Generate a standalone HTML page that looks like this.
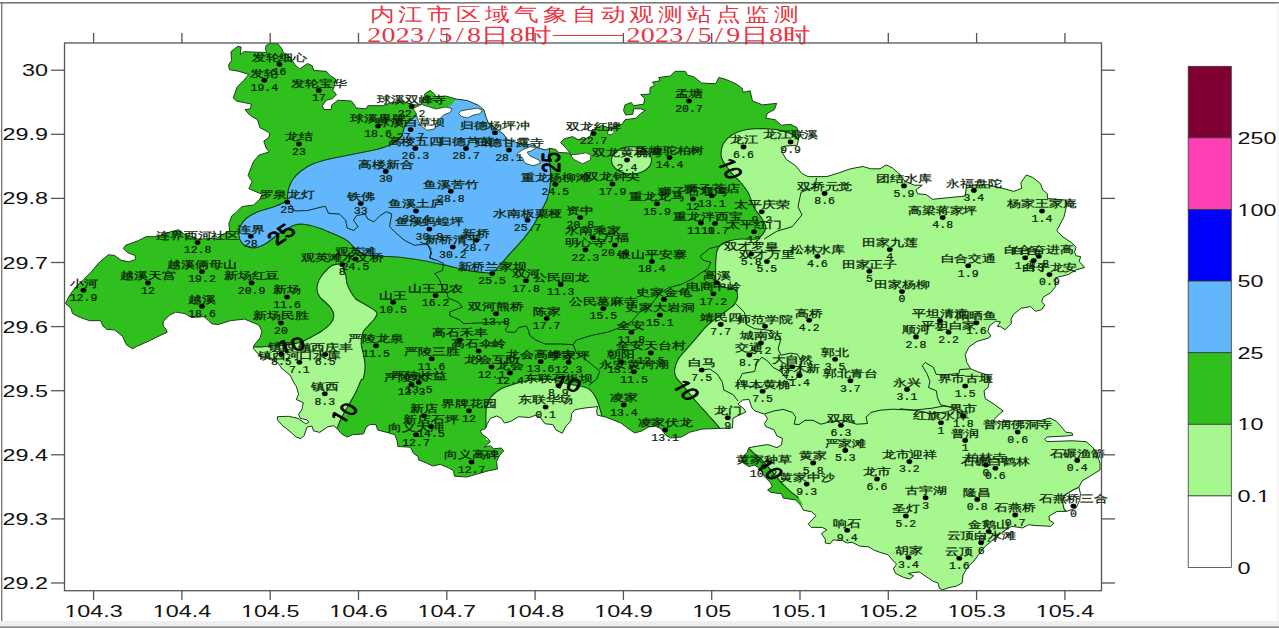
<!DOCTYPE html>
<html lang="zh"><head><meta charset="utf-8"><title>内江市区域气象自动观测站点监测</title>
<style>html,body{margin:0;padding:0;background:#fff}body{width:1279px;height:628px;overflow:hidden;font-family:"Liberation Sans",sans-serif}svg{display:block}.ax{font-family:"Liberation Sans",sans-serif;font-size:16.7px;fill:#111}.st{font-family:"Liberation Serif",serif;font-size:10.2px;fill:#0a1f08;stroke:#0a1f08;stroke-width:0.25px}.sv{font-family:"Liberation Mono",monospace;font-size:10.5px}.ti{font-family:"Liberation Serif",serif;font-weight:200;fill:#e61e32;fill-opacity:.92}.cl{font-family:"Liberation Sans",sans-serif;fill:#000;stroke:#000;stroke-width:0.8px;stroke-linejoin:round}</style></head><body>
<svg width="1279" height="628" viewBox="0 0 1279 628">
<rect width="1279" height="628" fill="#fff"/>
<rect x="0" y="2" width="1279" height="1.6" fill="#7a7a7a"/><rect x="1" y="2" width="1.4" height="620" fill="#7a7a7a"/><rect x="1277" y="3.6" width="2" height="618" fill="#f5f5f5"/>
<rect x="0" y="621" width="1279" height="5.4" fill="#efefef"/><rect x="0" y="626.3" width="1279" height="1.7" fill="#8c8c8c"/>
<defs><clipPath id="oc"><polygon points="266.1,45.5 270,43.5 277.9,43.9 281.8,48.6 283.3,52.5 290.4,57.2 295,65 299.7,68.9 307.6,63.5 312.3,65.8 313.8,70.5 326.3,71.3 329.5,75.2 335.7,79.1 334.2,86.9 332.6,90 336.5,94.7 332.6,98.6 326.3,100.2 322.4,105.7 324,109.6 331,109.6 331.8,104.9 338,100.2 351.4,101 354.5,104.9 356,108 366.2,108.8 367.8,105.7 382.6,105.7 392,102.5 404.5,101.8 410.8,104 416,105 421.5,103.8 425,93.6 430,90.5 434,93.6 436,96.7 445.7,96 456,99 467.6,100.6 478.6,105.4 484,110 485.7,116.3 488.8,124 498.2,130.3 502.9,133.5 507.6,139.7 520,143.6 532.6,145.2 537.3,147.5 545,150 549.8,148.3 556,149.5 558.2,152.4 568.4,153 571.5,155.5 568.4,150.8 564,146 560.7,142.8 563.9,138.9 572.5,136.6 578,139.7 585.8,138.9 590.4,135.8 592,130.3 601.4,125.6 610,128 615,126 621.9,124.4 625,119.7 636,118.2 640.7,113.5 645.3,110.4 640.7,108.8 633.6,108.8 632.8,114.3 625.8,115 623.5,110.4 625,104.9 631.3,102.5 633.6,105.7 643.8,104.1 644.6,98.6 640.7,94.7 650,94 650,87.7 654.7,85.3 652.4,82.2 660.2,80.7 658.6,77.5 670.4,76 675,71.3 685.2,71.3 687.6,75.2 693.8,76.7 701.6,83 715.7,83.8 718.8,77.5 725,79.1 736,83.8 742.3,88.5 743,92.4 750.1,90.8 752.5,101 762.6,104.9 776.7,103.3 774.4,109.6 767.3,113.5 765.8,118.2 775.1,119.7 781.4,125.2 790.8,124.4 797,127.6 798.8,137.5 797.2,145.3 784.7,146.1 781.6,151.6 786.3,159.4 795.6,165.7 801.9,173.5 808.1,176.6 826.9,176.6 839.4,172.7 850.4,168.8 862.9,166.5 870.7,168.8 880,168.8 886.3,164.9 892.6,168 898.8,173.5 905.1,181.3 914.5,185.2 922.3,185.2 916,189.9 917.6,193.8 926.3,194.6 932.5,199.3 948.1,197.7 965.3,196.1 966.1,188.3 973.2,185.2 985.7,184.4 999.7,187.5 1013.8,191.4 1021.6,188.3 1020.9,182.8 1026.3,175 1032.6,177.4 1040.4,183.6 1042.8,189.9 1047.4,193.8 1047.4,198.5 1065.4,200 1067,204 1063.9,217.2 1056.8,230.5 1062,236.3 1071.4,242.5 1076,247.2 1074.5,251.9 1076,255.8 1080.7,256.6 1079.2,261.3 1084.6,267.5 1076,269.9 1068.2,274.6 1055.7,277.7 1055.7,286.3 1051,292.5 1043.2,297.2 1041.6,301.9 1044.8,305 1041.6,309.7 1035.4,311.3 1030.7,306.6 1021.3,308.2 1013.5,314.4 1011.1,319.1 1011.4,323.5 1005,329.7 1000.4,326.6 997.3,326.6 1000.4,321.9 995.7,321.1 989.5,325.8 987.9,331.3 991,336 987.9,338.3 977,341.4 969,346.9 965.2,354.7 966.8,362.5 970.7,368.8 980,372.7 987.9,375 989.5,381.3 987.9,387.6 984,390.7 985.2,398.6 993.8,404 1003.2,411 1000,413.5 993.8,419.7 993.8,422 1009.5,421.3 1025,420.5 1040.7,420.5 1050,418 1056.4,421.3 1062.6,428.3 1065.8,432.2 1072,433 1072.8,435.3 1065.8,436 1047,437 1044.6,439.3 1047,441.6 1072,440.8 1086,441.6 1092.3,447 1097,452.5 1100,463.5 1100,470 1089.8,476.3 1082,481 1078.9,487.2 1080.4,493.5 1079.7,500.5 1075.8,508.3 1066.4,511.4 1057,511.4 1049.2,516.1 1049.2,520 1053.9,523.2 1050.7,526.3 1035,525.5 1028.8,524.7 1022.6,527.9 1011.6,526.3 1003.8,531 994.4,538.8 985,546.6 978.8,554.4 973.9,561 967.6,567.2 963,575 962.2,582.9 956.7,586 948.9,587.6 942.6,589.9 939.5,588.4 937.9,582.9 933.2,581.3 928.5,578.2 923.9,575 919.2,571.9 912.9,572.7 908.2,573.5 913.7,575.8 909.8,579 903.5,577.4 895.7,573.5 893.4,568.8 896.5,564.1 892.6,560.2 887.9,554.7 880,552.4 873.8,550 869.1,546.9 859.7,546.1 851.9,542.2 847.2,543 842.6,540.7 833.2,539.9 830,543.8 825.3,543 825.3,539.1 821.4,533.6 826.9,529.7 822.2,527.4 811.3,527.4 808.1,524.2 816,515.6 811.3,511.7 803.5,510.2 800.3,504.7 795.6,500 783.2,498 781.6,493.8 770.7,492.3 767.6,490 772.3,486.8 770.7,482.9 764.4,476.6 761.3,470.4 755,465 748.8,466.5 742.5,462.5 741.8,458 747.2,452.4 748.8,447.7 758.2,446 767.6,444.6 772.3,446 777,447.7 781.6,444.6 782.4,438.3 777,436 773.8,429.7 766,426.6 764.4,423.5 767.6,418.8 764.4,414 755,411 752,407.8 749,399.4 742.6,400 738,404 744,408.8 745.8,412 739.5,415 733,418 732.5,428 719.2,428.4 702,429.1 689.5,432.3 681.6,437 670.7,438 666,435.4 661.3,429.1 656.6,426 648.8,426.8 642.5,430.7 634.7,433 626.9,427.6 620.7,422.9 606.6,417.4 597.2,415 596.7,411 597.5,406.6 584.2,408.1 574.8,409.7 571.7,413.6 570.9,420.7 565.4,426.9 562.3,433.2 556,430 552.9,424.6 545.1,423.8 540.4,417.5 535.7,415.2 529.5,417.5 518.5,416.7 510.7,421.4 504.4,423 501.3,418.3 496.6,416 490.4,418.3 487.2,423.8 485.7,428.5 480.2,430.8 482.5,434.7 487.2,437.9 490.4,441.8 484.1,447.2 490.4,445.7 493.5,448.8 501.3,448 503.7,451.1 499.7,455.1 496.6,461.3 497.4,469.1 488.8,470.7 477.9,473.8 466.9,477 454.4,476.2 453.6,470.7 448.1,467.6 440.3,464.4 432.5,466 426.1,462.9 418.3,459.7 418.3,456.6 413.6,453.5 410.4,447.2 397.9,446.5 397.2,441 394.8,434.7 387,432.4 377.6,430 376,424.6 369.8,424.6 365.9,427.7 363.5,433.9 352.6,434.7 347.1,437.1 341.6,433.9 337,428.5 333.8,425.7 327.6,426.9 319.7,432.4 313.5,430.8 311.9,426.1 307.2,426.9 304.1,435.5 301,438.6 296.3,437.1 290,431.6 282.2,425.3 277.5,419.9 277.5,416.7 288.5,416.3 297.9,418.3 305.7,423.8 308.8,422.2 307.2,419.9 300.2,418.3 298.6,414.4 301.8,409.7 303.3,402.7 296.3,399.5 298.6,394.1 296.3,386.3 294,382.9 290,375 282.2,368.8 277.5,362.5 271.3,358.6 260.3,356.3 253.3,348.5 254,345.3 260.3,337.5 261.9,331.3 258.8,325 249.4,321.1 244.5,319.1 230.4,320.7 217.9,324.6 211.7,323.8 208.6,320.7 203.9,316.7 191.4,317.5 185.1,313.6 175.7,312.1 169.5,315.2 163.2,321.4 163.2,326.1 166.3,329.3 167.1,332.4 160.1,335.5 150.7,340.2 136.6,346.5 132.7,348.8 126.5,344.9 122.5,336.3 114.7,330 106.9,329.3 103,326.1 100.7,320.7 89.7,320.7 80.3,317.5 72.5,313.6 70.9,308.1 65.5,303.5 69.4,295.6 75.6,287 83.5,279.7 91.3,271.9 99.1,262.5 108.5,254.7 114.7,255.5 121,260.2 128.8,261.8 135.8,259.4 135,255.5 127.2,252.4 123.3,248.5 125.7,245.3 138.2,240.7 146,236.7 157,236.7 169.5,232.1 178.8,229.7 183.5,233.6 197.6,239.1 216.4,238.3 224.2,233.6 229.7,231.3 228.9,223.5 232,215.6 235.6,212.9 241.9,206.6 253.6,205 260,199 262,194 256,191.8 248.9,188.6 252.1,181.6 248.1,175.3 253.6,161.3 259.1,155 269.3,151.9 266.1,148 263.8,141 268.5,137.8 270,133.9 268.5,132.3 259.9,127.6 257.5,119.7 249.7,115.1 245,109.6 250.5,108.8 251.3,104.1 236.4,101 233.3,97.9 234.9,93.2 237.2,86.9 243.5,80.7 248.9,74.4 238.8,71.3 229.4,69.7 228.6,65 231.7,60.3 230.9,51.7 238,46.3 241.1,47 240.3,54.9 243.5,51.7 266.9,52.5 265.4,49.4"/></clipPath></defs>
<g clip-path="url(#oc)">
<rect x="60" y="40" width="1050" height="560" fill="#30c01d"/>
<path d="M799.0,141.5 C798.8,141.1 798.1,139.8 797.5,139.0 C796.9,138.2 796.7,137.4 795.5,136.5 C794.3,135.6 792.7,134.4 790.4,133.4 C788.1,132.4 784.9,131.3 781.5,130.6 C778.1,129.9 774.0,129.3 770.0,129.0 C766.0,128.7 761.5,128.5 757.3,128.7 C753.1,128.9 748.9,128.9 744.6,130.0 C740.4,131.1 735.3,132.8 731.8,135.0 C728.3,137.2 725.4,140.2 723.6,143.3 C721.8,146.4 721.1,150.6 721.0,153.5 C720.9,156.4 720.8,157.2 722.8,160.7 C724.8,164.2 730.0,171.1 733.0,174.7 C736.0,178.3 738.1,179.4 740.7,182.5 C743.3,185.6 746.4,189.3 748.6,193.5 C750.8,197.7 751.9,203.7 754.0,207.6 C756.1,211.5 759.0,214.0 761.0,217.2 C763.0,220.4 765.5,223.7 765.8,226.6 C766.1,229.5 764.2,232.3 762.6,234.4 C761.0,236.5 760.0,238.2 756.4,239.0 C752.8,239.8 745.1,238.7 740.7,239.0 C736.3,239.3 732.9,239.9 729.8,240.7 C726.7,241.5 724.1,242.2 722.0,243.8 C719.9,245.4 718.3,246.9 717.3,250.0 C716.2,253.1 716.0,258.6 715.7,262.5 C715.4,266.4 715.6,270.1 715.7,273.5 C715.8,276.9 715.0,280.5 716.5,282.9 C718.0,285.2 722.0,286.6 725.0,287.6 C728.0,288.6 732.4,287.5 734.5,289.0 C736.6,290.5 737.6,294.0 737.6,296.6 C737.6,299.2 736.3,302.0 734.5,304.4 C732.7,306.8 729.8,308.3 726.7,310.7 C723.6,313.1 719.1,315.9 715.7,318.5 C712.3,321.1 709.4,323.2 706.3,326.3 C703.2,329.4 700.4,333.3 697.0,337.2 C693.6,341.1 689.1,346.2 686.0,349.8 C682.9,353.4 680.4,355.5 678.5,358.8 C676.6,362.1 675.0,366.6 674.6,369.7 C674.2,372.8 675.0,375.1 676.2,377.5 C677.4,379.9 678.4,379.9 681.6,383.8 C684.9,387.7 691.3,395.8 695.7,401.0 C700.1,406.2 704.3,410.6 708.2,415.0 C712.1,419.4 716.4,423.4 719.2,427.6 C722.0,431.8 724.0,437.9 725.0,440.0 L725,600 L1110,600 L1110,100 L800,100 Z" fill="#a5f78e"/>
<path d="M287.2,199.5 C287.5,197.6 287.8,191.4 288.8,187.9 C289.9,184.4 291.4,181.4 293.5,178.5 C295.6,175.6 297.9,173.2 301.3,170.7 C304.7,168.2 309.1,165.6 313.8,163.6 C318.5,161.6 323.0,160.5 329.5,158.9 C336.0,157.3 345.1,155.8 352.9,154.2 C360.7,152.6 369.9,151.2 376.4,149.5 C382.9,147.8 387.8,146.2 392.0,144.0 C396.2,141.8 399.2,139.4 401.4,136.3 C403.6,133.2 403.1,128.8 405.0,125.7 C406.9,122.7 410.9,120.1 413.0,118.0 C415.1,115.9 416.8,113.8 417.6,113.0 L428,109.5 L446,108 L452,104.5 L456,99 L456,85 L560,85 L549.8,140 L549.8,148.3 C549.7,149.8 548.9,153.0 549.0,157.0 C549.1,161.0 550.5,167.3 550.6,172.5 C550.7,177.7 550.4,183.6 549.8,188.2 C549.1,192.8 548.3,195.9 546.7,200.0 C545.1,204.1 542.8,208.1 540.4,212.5 C538.0,216.9 535.5,222.2 532.6,226.6 C529.7,231.0 527.4,234.1 523.2,239.1 C519.0,244.1 511.8,251.6 507.6,256.3 C503.4,261.0 500.7,264.3 498.2,267.2 C495.7,270.1 493.6,272.4 492.7,273.5 L492.7,273.5 C488.5,273.0 475.7,271.8 467.6,270.4 C459.5,269.0 452.0,266.6 444.2,264.9 C436.4,263.2 428.5,261.5 420.7,260.2 C412.9,258.9 404.1,257.6 397.3,257.0 C390.5,256.4 384.9,256.6 380.0,256.3 C375.1,256.1 371.1,256.1 368.0,255.5 C364.9,254.9 363.5,254.2 361.3,253.0 C359.1,251.8 357.4,250.6 355.0,248.5 C352.6,246.4 350.6,243.0 347.2,240.7 C343.8,238.3 339.4,236.5 334.7,234.4 C330.0,232.3 324.2,229.7 319.0,228.0 C313.8,226.3 307.9,224.8 303.7,224.3 C299.5,223.9 297.9,223.9 294.0,225.3 C290.1,226.8 284.5,230.1 280.0,233.0 C275.5,235.9 270.8,240.6 266.8,243.0 C262.8,245.4 259.4,247.0 256.0,247.6 C252.6,248.2 249.0,247.4 246.4,246.3 C243.8,245.2 241.8,243.1 240.5,241.0 C239.2,238.9 238.9,236.4 238.8,234.0 C238.7,231.6 238.7,229.2 240.0,226.6 C241.3,224.0 243.2,220.9 246.4,218.3 C249.6,215.8 254.3,213.2 259.0,211.3 C263.7,209.4 270.0,208.3 274.7,206.6 C279.4,204.9 285.1,201.9 287.2,201.0 Z" fill="#62b6fb"/>
<path d="M339.4,264.0 C338.1,264.3 334.5,263.9 331.6,265.7 C328.7,267.5 324.6,271.9 322.2,275.0 C319.8,278.1 318.3,281.5 317.5,284.4 C316.7,287.3 317.0,290.0 317.5,292.3 C318.0,294.6 319.8,296.7 320.7,298.0 C321.6,299.3 321.2,298.4 322.9,300.0 C324.6,301.6 328.9,305.2 330.7,307.8 C332.5,310.4 333.8,313.0 333.8,315.6 C333.8,318.2 332.8,320.9 330.7,323.5 C328.6,326.1 324.9,328.8 321.3,331.3 C317.7,333.8 312.2,336.5 308.8,338.3 C305.4,340.1 304.1,341.2 301.0,342.2 C297.9,343.2 293.7,343.9 290.0,344.5 C286.3,345.1 283.9,345.1 279.0,345.5 C274.1,345.9 265.1,346.6 260.3,346.9 C255.5,347.1 251.7,347.0 250.0,347.0 L250,440 L337,440 L337.0,428.5 C337.8,426.7 339.5,421.7 341.6,417.5 C343.7,413.3 347.1,407.7 349.5,403.5 C351.9,399.3 353.8,396.4 355.7,392.5 C357.6,388.6 359.9,382.4 361.2,380.0 C362.5,377.6 362.9,380.6 363.5,378.2 C364.1,375.8 365.1,369.6 365.1,365.7 C365.1,361.8 364.1,358.3 363.5,354.7 C362.9,351.1 361.3,347.4 361.2,343.8 C361.1,340.2 361.6,335.8 362.8,332.8 C364.0,329.8 366.2,328.1 368.2,325.8 C370.1,323.5 373.1,321.0 374.5,318.8 C375.9,316.6 377.9,314.6 376.8,312.5 C375.8,310.4 371.4,308.4 368.2,306.3 C364.9,304.2 359.5,301.4 357.3,300.0 C355.1,298.6 355.9,299.0 355.0,298.0 C354.1,297.0 353.3,296.1 352.0,293.8 C350.7,291.5 348.2,287.5 347.2,284.4 C346.1,281.3 346.5,278.2 345.7,275.0 C344.9,271.8 343.0,266.7 342.5,265.0 Z" fill="#a5f78e"/>
<path d="M486.0,428.0 C486.1,424.7 485.5,413.2 486.3,408.0 C487.1,402.8 488.7,400.1 491.0,397.0 C493.3,393.9 496.1,391.6 500.0,389.4 C503.9,387.2 509.9,385.4 514.4,384.0 C518.9,382.6 522.3,381.6 527.0,380.8 C531.7,380.0 537.8,379.4 542.5,379.3 C547.2,379.2 550.8,379.2 555.0,380.0 C559.2,380.8 563.2,382.9 567.6,384.0 C572.0,385.1 578.0,385.4 581.6,386.3 C585.2,387.2 587.1,387.6 589.5,389.4 C591.9,391.2 594.2,394.6 595.7,397.2 C597.2,399.8 597.8,401.9 598.8,405.0 C599.8,408.1 601.5,414.2 602.0,416.0 L602,440 L486,440 Z" fill="#a5f78e"/>
<ellipse cx="631.5" cy="160.3" rx="20" ry="13.7" fill="#a5f78e"/>
<path d="M741.0,447.0 C742.3,447.2 746.7,447.5 748.8,448.5 C750.9,449.5 751.1,450.9 753.5,453.0 C755.9,455.1 759.5,457.6 762.9,461.0 C766.3,464.4 770.7,469.9 773.8,473.5 C776.9,477.1 779.0,480.0 781.6,482.9 C784.2,485.8 786.6,488.2 789.5,490.7 C792.4,493.2 797.2,496.8 798.8,498.0 L803,505 L740,505 L735,460 Z" fill="#30c01d"/>
<polygon points="1078.9,487.2 1072.6,490.3 1064.8,495 1062.5,501.3 1064,509 1066.4,511.4 1075.8,508.3 1079.7,500.5 1080.4,493.5" fill="#fff"/>
<path d="M799.0,141.5 C798.8,141.1 798.1,139.8 797.5,139.0 C796.9,138.2 796.7,137.4 795.5,136.5 C794.3,135.6 792.7,134.4 790.4,133.4 C788.1,132.4 784.9,131.3 781.5,130.6 C778.1,129.9 774.0,129.3 770.0,129.0 C766.0,128.7 761.5,128.5 757.3,128.7 C753.1,128.9 748.9,128.9 744.6,130.0 C740.4,131.1 735.3,132.8 731.8,135.0 C728.3,137.2 725.4,140.2 723.6,143.3 C721.8,146.4 721.1,150.6 721.0,153.5 C720.9,156.4 720.8,157.2 722.8,160.7 C724.8,164.2 730.0,171.1 733.0,174.7 C736.0,178.3 738.1,179.4 740.7,182.5 C743.3,185.6 746.4,189.3 748.6,193.5 C750.8,197.7 751.9,203.7 754.0,207.6 C756.1,211.5 759.0,214.0 761.0,217.2 C763.0,220.4 765.5,223.7 765.8,226.6 C766.1,229.5 764.2,232.3 762.6,234.4 C761.0,236.5 760.0,238.2 756.4,239.0 C752.8,239.8 745.1,238.7 740.7,239.0 C736.3,239.3 732.9,239.9 729.8,240.7 C726.7,241.5 724.1,242.2 722.0,243.8 C719.9,245.4 718.3,246.9 717.3,250.0 C716.2,253.1 716.0,258.6 715.7,262.5 C715.4,266.4 715.6,270.1 715.7,273.5 C715.8,276.9 715.0,280.5 716.5,282.9 C718.0,285.2 722.0,286.6 725.0,287.6 C728.0,288.6 732.4,287.5 734.5,289.0 C736.6,290.5 737.6,294.0 737.6,296.6 C737.6,299.2 736.3,302.0 734.5,304.4 C732.7,306.8 729.8,308.3 726.7,310.7 C723.6,313.1 719.1,315.9 715.7,318.5 C712.3,321.1 709.4,323.2 706.3,326.3 C703.2,329.4 700.4,333.3 697.0,337.2 C693.6,341.1 689.1,346.2 686.0,349.8 C682.9,353.4 680.4,355.5 678.5,358.8 C676.6,362.1 675.0,366.6 674.6,369.7 C674.2,372.8 675.0,375.1 676.2,377.5 C677.4,379.9 678.4,379.9 681.6,383.8 C684.9,387.7 691.3,395.8 695.7,401.0 C700.1,406.2 704.3,410.6 708.2,415.0 C712.1,419.4 716.4,423.4 719.2,427.6 C722.0,431.8 724.0,437.9 725.0,440.0" fill="none" stroke="#0c3a10" stroke-width="1.1" stroke-linejoin="round"/>
<path d="M287.2,199.5 C287.5,197.6 287.8,191.4 288.8,187.9 C289.9,184.4 291.4,181.4 293.5,178.5 C295.6,175.6 297.9,173.2 301.3,170.7 C304.7,168.2 309.1,165.6 313.8,163.6 C318.5,161.6 323.0,160.5 329.5,158.9 C336.0,157.3 345.1,155.8 352.9,154.2 C360.7,152.6 369.9,151.2 376.4,149.5 C382.9,147.8 387.8,146.2 392.0,144.0 C396.2,141.8 399.2,139.4 401.4,136.3 C403.6,133.2 403.1,128.8 405.0,125.7 C406.9,122.7 410.9,120.1 413.0,118.0 C415.1,115.9 416.8,113.8 417.6,113.0" fill="none" stroke="#0c3a10" stroke-width="1.1" stroke-linejoin="round"/>
<path d="M549.8,148.3 C549.7,149.8 548.9,153.0 549.0,157.0 C549.1,161.0 550.5,167.3 550.6,172.5 C550.7,177.7 550.4,183.6 549.8,188.2 C549.1,192.8 548.3,195.9 546.7,200.0 C545.1,204.1 542.8,208.1 540.4,212.5 C538.0,216.9 535.5,222.2 532.6,226.6 C529.7,231.0 527.4,234.1 523.2,239.1 C519.0,244.1 511.8,251.6 507.6,256.3 C503.4,261.0 500.7,264.3 498.2,267.2 C495.7,270.1 493.6,272.4 492.7,273.5" fill="none" stroke="#0c3a10" stroke-width="1.1" stroke-linejoin="round"/>
<path d="M492.7,273.5 C488.5,273.0 475.7,271.8 467.6,270.4 C459.5,269.0 452.0,266.6 444.2,264.9 C436.4,263.2 428.5,261.5 420.7,260.2 C412.9,258.9 404.1,257.6 397.3,257.0 C390.5,256.4 384.9,256.6 380.0,256.3 C375.1,256.1 371.1,256.1 368.0,255.5 C364.9,254.9 363.5,254.2 361.3,253.0 C359.1,251.8 357.4,250.6 355.0,248.5 C352.6,246.4 350.6,243.0 347.2,240.7 C343.8,238.3 339.4,236.5 334.7,234.4 C330.0,232.3 324.2,229.7 319.0,228.0 C313.8,226.3 307.9,224.8 303.7,224.3 C299.5,223.9 297.9,223.9 294.0,225.3 C290.1,226.8 284.5,230.1 280.0,233.0 C275.5,235.9 270.8,240.6 266.8,243.0 C262.8,245.4 259.4,247.0 256.0,247.6 C252.6,248.2 249.0,247.4 246.4,246.3 C243.8,245.2 241.8,243.1 240.5,241.0 C239.2,238.9 238.9,236.4 238.8,234.0 C238.7,231.6 238.7,229.2 240.0,226.6 C241.3,224.0 243.2,220.9 246.4,218.3 C249.6,215.8 254.3,213.2 259.0,211.3 C263.7,209.4 270.0,208.3 274.7,206.6 C279.4,204.9 285.1,201.9 287.2,201.0" fill="none" stroke="#0c3a10" stroke-width="1.1" stroke-linejoin="round"/>
<path d="M339.4,264.0 C338.1,264.3 334.5,263.9 331.6,265.7 C328.7,267.5 324.6,271.9 322.2,275.0 C319.8,278.1 318.3,281.5 317.5,284.4 C316.7,287.3 317.0,290.0 317.5,292.3 C318.0,294.6 319.8,296.7 320.7,298.0 C321.6,299.3 321.2,298.4 322.9,300.0 C324.6,301.6 328.9,305.2 330.7,307.8 C332.5,310.4 333.8,313.0 333.8,315.6 C333.8,318.2 332.8,320.9 330.7,323.5 C328.6,326.1 324.9,328.8 321.3,331.3 C317.7,333.8 312.2,336.5 308.8,338.3 C305.4,340.1 304.1,341.2 301.0,342.2 C297.9,343.2 293.7,343.9 290.0,344.5 C286.3,345.1 283.9,345.1 279.0,345.5 C274.1,345.9 265.1,346.6 260.3,346.9 C255.5,347.1 251.7,347.0 250.0,347.0" fill="none" stroke="#0c3a10" stroke-width="1.1" stroke-linejoin="round"/>
<path d="M337.0,428.5 C337.8,426.7 339.5,421.7 341.6,417.5 C343.7,413.3 347.1,407.7 349.5,403.5 C351.9,399.3 353.8,396.4 355.7,392.5 C357.6,388.6 359.9,382.4 361.2,380.0 C362.5,377.6 362.9,380.6 363.5,378.2 C364.1,375.8 365.1,369.6 365.1,365.7 C365.1,361.8 364.1,358.3 363.5,354.7 C362.9,351.1 361.3,347.4 361.2,343.8 C361.1,340.2 361.6,335.8 362.8,332.8 C364.0,329.8 366.2,328.1 368.2,325.8 C370.1,323.5 373.1,321.0 374.5,318.8 C375.9,316.6 377.9,314.6 376.8,312.5 C375.8,310.4 371.4,308.4 368.2,306.3 C364.9,304.2 359.5,301.4 357.3,300.0 C355.1,298.6 355.9,299.0 355.0,298.0 C354.1,297.0 353.3,296.1 352.0,293.8 C350.7,291.5 348.2,287.5 347.2,284.4 C346.1,281.3 346.5,278.2 345.7,275.0 C344.9,271.8 343.0,266.7 342.5,265.0" fill="none" stroke="#0c3a10" stroke-width="1.1" stroke-linejoin="round"/>
<path d="M486.0,428.0 C486.1,424.7 485.5,413.2 486.3,408.0 C487.1,402.8 488.7,400.1 491.0,397.0 C493.3,393.9 496.1,391.6 500.0,389.4 C503.9,387.2 509.9,385.4 514.4,384.0 C518.9,382.6 522.3,381.6 527.0,380.8 C531.7,380.0 537.8,379.4 542.5,379.3 C547.2,379.2 550.8,379.2 555.0,380.0 C559.2,380.8 563.2,382.9 567.6,384.0 C572.0,385.1 578.0,385.4 581.6,386.3 C585.2,387.2 587.1,387.6 589.5,389.4 C591.9,391.2 594.2,394.6 595.7,397.2 C597.2,399.8 597.8,401.9 598.8,405.0 C599.8,408.1 601.5,414.2 602.0,416.0" fill="none" stroke="#0c3a10" stroke-width="1.1" stroke-linejoin="round"/>
<path d="M741.0,447.0 C742.3,447.2 746.7,447.5 748.8,448.5 C750.9,449.5 751.1,450.9 753.5,453.0 C755.9,455.1 759.5,457.6 762.9,461.0 C766.3,464.4 770.7,469.9 773.8,473.5 C776.9,477.1 779.0,480.0 781.6,482.9 C784.2,485.8 786.6,488.2 789.5,490.7 C792.4,493.2 797.2,496.8 798.8,498.0" fill="none" stroke="#0c3a10" stroke-width="1.1" stroke-linejoin="round"/>
<ellipse cx="631.5" cy="160.3" rx="20" ry="13.7" fill="none" stroke="#0c3a10" stroke-width="1.1" stroke-linejoin="round"/>
<path d="M1078.9,487.2 L1072.6,490.3 1064.8,495 1062.5,501.3 1064,509 1066.4,511.4" fill="none" stroke="#0c3a10" stroke-width="1.1" stroke-linejoin="round"/>
<path d="M287,200 L295,211 307.6,210.5 320,207.4 325.3,206.3 328.5,213.3 339.4,214 345.7,220.3 347.2,228 353.5,230.5 358.2,226.6 353.5,220.3 356.6,215.6 365.2,214 367.6,218.8 373.8,221.9 380,215.6 386.3,211.7 391.8,214 389.5,226.6 395.7,232.8 405,240.7 414.5,245.3 427,243.8 430.9,248.5 430,257.9 436.4,260.2 443.4,263.3 442.6,270.4 434.8,273.5 439.5,279.7 442.6,287.6 447.3,293.8 448,297.8 459,302.5 462.2,307.2 449.7,311.9 450,316 459,319.7 463.8,323.6 482.5,322.8 504.4,322 508.3,325.2 505.2,329.9 507.6,332.2 515.4,332.2 518.5,327.5 526.3,326 528.7,330.7 529.5,335.3 535.7,340 545.1,344 560.7,344 573.2,344.7 576.4,340 592,335.3 607.6,332.2 620,327.5 631,322 640,312 650,306 659.4,293.8 668.8,287.6 681.3,284.4 693.8,278.2 700,273.5 707.9,268.8 711,262.5 703.2,260.2 700,256.3 709.5,248.5 718.8,246.1 729.8,240.7" fill="none" stroke="#0d2b1a" stroke-width="1" stroke-linejoin="round"/>
<path d="M573.2,344.7 L576.4,352.5 588.9,362 599.8,371.3 596.7,379 588.9,385.4" fill="none" stroke="#0d2b1a" stroke-width="1" stroke-linejoin="round"/>
<path d="M764.2,239 L776.7,231.3 792.3,226.6 802,214.8 798,206.7 801,192.4 815.4,186.3 816.4,178" fill="none" stroke="#0d2b1a" stroke-width="1" stroke-linejoin="round"/>
<path d="M736.3,304.3 L744.5,312.4 746.5,324.6 754.6,328.7 773,330.7 781,338.9 778,349 781,355.2 790.3,353.2 797.4,354.2 801.5,361.3 800.5,371.5 795.4,379.6 787.2,379.6 781,371.5 773,367.4 767.9,361.3 761.8,357.2 756.7,363.3 754.6,371.5 742.4,373.5 739.4,379.6 746.5,385.8 760.7,387.8 768,380" fill="none" stroke="#0d2b1a" stroke-width="1" stroke-linejoin="round"/>
<path d="M702,369.7 L709.8,369 717.6,374.4 722.3,382.2 723.9,390 733.2,394.7 738,401" fill="none" stroke="#0d2b1a" stroke-width="1" stroke-linejoin="round"/>
<path d="M764.4,414 L773.8,411 783.2,409.4 792.6,412.5 795.7,417.2 794.2,424.2 799,424.5 805,420.3 813,420.3 820.7,424.2 830,421.9 842.6,420.3 856.7,424.2 867.6,423.5 866,417.2 870.8,412.5 880,410.2 893.2,409.2 913.6,410.2 932,408.2 944,406 951.6,407.2 962.5,415 966,418" fill="none" stroke="#0d2b1a" stroke-width="1" stroke-linejoin="round"/>
<path d="M970.7,368.8 L959.8,369.6 959,373.5 942.5,375 936.3,374.3 933.2,367.2 925.3,362.5 922.2,365.7 926.9,373.5 930,381.3 928.5,387.6 936.3,390.7 937.5,397.8 940.7,404.9 951.6,407.2" fill="none" stroke="#0d2b1a" stroke-width="1" stroke-linejoin="round"/>
<path d="M900,408.8 L915.6,410.3 931.3,413.5 947,411.9" fill="none" stroke="#0d2b1a" stroke-width="1" stroke-linejoin="round"/>
<path d="M420,242 L427.8,245.3 431.7,253.2 429.4,257.9 435.6,260.2" fill="none" stroke="#0d2b1a" stroke-width="1" stroke-linejoin="round"/>
</g>
<polygon points="413,108.5 421.5,104.5 436,109 445.7,107 452,108.5 450.4,112.4 444,114.7 436,122.5 434.8,128.8 427,130.4 420.7,125.7 417.6,119.4 416,113" fill="#fff" stroke="#2a4a2a" stroke-width="0.9"/>
<polygon points="458.5,113.7 461,110.8 468.8,109.4 477.4,108.2 482.4,110.3 480.3,113.7 473.1,115.1 467.4,118 461.7,116.5" fill="#fff" stroke="#2a4a2a" stroke-width="0.9"/>
<polygon points="517,154 522,150 530,146.7 537,147.5 531,151 527,152.2 530,156 539,160 540.4,163.2 533,165.8 525,163.2 522,157 518,157" fill="#fff" stroke="#2a4a2a" stroke-width="0.9"/>
<polygon points="572,154.5 576.3,154.5 585.7,152.8 591,155 590.4,160 582.5,163.8 574,159.5 571,156" fill="#fff" stroke="#2a4a2a" stroke-width="0.9"/>
<polygon points="608,131 612,129.5 614.5,132 611,135 607.5,134" fill="#fff" stroke="#2a4a2a" stroke-width="0.9"/>
<polygon points="266.1,45.5 270,43.5 277.9,43.9 281.8,48.6 283.3,52.5 290.4,57.2 295,65 299.7,68.9 307.6,63.5 312.3,65.8 313.8,70.5 326.3,71.3 329.5,75.2 335.7,79.1 334.2,86.9 332.6,90 336.5,94.7 332.6,98.6 326.3,100.2 322.4,105.7 324,109.6 331,109.6 331.8,104.9 338,100.2 351.4,101 354.5,104.9 356,108 366.2,108.8 367.8,105.7 382.6,105.7 392,102.5 404.5,101.8 410.8,104 416,105 421.5,103.8 425,93.6 430,90.5 434,93.6 436,96.7 445.7,96 456,99 467.6,100.6 478.6,105.4 484,110 485.7,116.3 488.8,124 498.2,130.3 502.9,133.5 507.6,139.7 520,143.6 532.6,145.2 537.3,147.5 545,150 549.8,148.3 556,149.5 558.2,152.4 568.4,153 571.5,155.5 568.4,150.8 564,146 560.7,142.8 563.9,138.9 572.5,136.6 578,139.7 585.8,138.9 590.4,135.8 592,130.3 601.4,125.6 610,128 615,126 621.9,124.4 625,119.7 636,118.2 640.7,113.5 645.3,110.4 640.7,108.8 633.6,108.8 632.8,114.3 625.8,115 623.5,110.4 625,104.9 631.3,102.5 633.6,105.7 643.8,104.1 644.6,98.6 640.7,94.7 650,94 650,87.7 654.7,85.3 652.4,82.2 660.2,80.7 658.6,77.5 670.4,76 675,71.3 685.2,71.3 687.6,75.2 693.8,76.7 701.6,83 715.7,83.8 718.8,77.5 725,79.1 736,83.8 742.3,88.5 743,92.4 750.1,90.8 752.5,101 762.6,104.9 776.7,103.3 774.4,109.6 767.3,113.5 765.8,118.2 775.1,119.7 781.4,125.2 790.8,124.4 797,127.6 798.8,137.5 797.2,145.3 784.7,146.1 781.6,151.6 786.3,159.4 795.6,165.7 801.9,173.5 808.1,176.6 826.9,176.6 839.4,172.7 850.4,168.8 862.9,166.5 870.7,168.8 880,168.8 886.3,164.9 892.6,168 898.8,173.5 905.1,181.3 914.5,185.2 922.3,185.2 916,189.9 917.6,193.8 926.3,194.6 932.5,199.3 948.1,197.7 965.3,196.1 966.1,188.3 973.2,185.2 985.7,184.4 999.7,187.5 1013.8,191.4 1021.6,188.3 1020.9,182.8 1026.3,175 1032.6,177.4 1040.4,183.6 1042.8,189.9 1047.4,193.8 1047.4,198.5 1065.4,200 1067,204 1063.9,217.2 1056.8,230.5 1062,236.3 1071.4,242.5 1076,247.2 1074.5,251.9 1076,255.8 1080.7,256.6 1079.2,261.3 1084.6,267.5 1076,269.9 1068.2,274.6 1055.7,277.7 1055.7,286.3 1051,292.5 1043.2,297.2 1041.6,301.9 1044.8,305 1041.6,309.7 1035.4,311.3 1030.7,306.6 1021.3,308.2 1013.5,314.4 1011.1,319.1 1011.4,323.5 1005,329.7 1000.4,326.6 997.3,326.6 1000.4,321.9 995.7,321.1 989.5,325.8 987.9,331.3 991,336 987.9,338.3 977,341.4 969,346.9 965.2,354.7 966.8,362.5 970.7,368.8 980,372.7 987.9,375 989.5,381.3 987.9,387.6 984,390.7 985.2,398.6 993.8,404 1003.2,411 1000,413.5 993.8,419.7 993.8,422 1009.5,421.3 1025,420.5 1040.7,420.5 1050,418 1056.4,421.3 1062.6,428.3 1065.8,432.2 1072,433 1072.8,435.3 1065.8,436 1047,437 1044.6,439.3 1047,441.6 1072,440.8 1086,441.6 1092.3,447 1097,452.5 1100,463.5 1100,470 1089.8,476.3 1082,481 1078.9,487.2 1080.4,493.5 1079.7,500.5 1075.8,508.3 1066.4,511.4 1057,511.4 1049.2,516.1 1049.2,520 1053.9,523.2 1050.7,526.3 1035,525.5 1028.8,524.7 1022.6,527.9 1011.6,526.3 1003.8,531 994.4,538.8 985,546.6 978.8,554.4 973.9,561 967.6,567.2 963,575 962.2,582.9 956.7,586 948.9,587.6 942.6,589.9 939.5,588.4 937.9,582.9 933.2,581.3 928.5,578.2 923.9,575 919.2,571.9 912.9,572.7 908.2,573.5 913.7,575.8 909.8,579 903.5,577.4 895.7,573.5 893.4,568.8 896.5,564.1 892.6,560.2 887.9,554.7 880,552.4 873.8,550 869.1,546.9 859.7,546.1 851.9,542.2 847.2,543 842.6,540.7 833.2,539.9 830,543.8 825.3,543 825.3,539.1 821.4,533.6 826.9,529.7 822.2,527.4 811.3,527.4 808.1,524.2 816,515.6 811.3,511.7 803.5,510.2 800.3,504.7 795.6,500 783.2,498 781.6,493.8 770.7,492.3 767.6,490 772.3,486.8 770.7,482.9 764.4,476.6 761.3,470.4 755,465 748.8,466.5 742.5,462.5 741.8,458 747.2,452.4 748.8,447.7 758.2,446 767.6,444.6 772.3,446 777,447.7 781.6,444.6 782.4,438.3 777,436 773.8,429.7 766,426.6 764.4,423.5 767.6,418.8 764.4,414 755,411 752,407.8 749,399.4 742.6,400 738,404 744,408.8 745.8,412 739.5,415 733,418 732.5,428 719.2,428.4 702,429.1 689.5,432.3 681.6,437 670.7,438 666,435.4 661.3,429.1 656.6,426 648.8,426.8 642.5,430.7 634.7,433 626.9,427.6 620.7,422.9 606.6,417.4 597.2,415 596.7,411 597.5,406.6 584.2,408.1 574.8,409.7 571.7,413.6 570.9,420.7 565.4,426.9 562.3,433.2 556,430 552.9,424.6 545.1,423.8 540.4,417.5 535.7,415.2 529.5,417.5 518.5,416.7 510.7,421.4 504.4,423 501.3,418.3 496.6,416 490.4,418.3 487.2,423.8 485.7,428.5 480.2,430.8 482.5,434.7 487.2,437.9 490.4,441.8 484.1,447.2 490.4,445.7 493.5,448.8 501.3,448 503.7,451.1 499.7,455.1 496.6,461.3 497.4,469.1 488.8,470.7 477.9,473.8 466.9,477 454.4,476.2 453.6,470.7 448.1,467.6 440.3,464.4 432.5,466 426.1,462.9 418.3,459.7 418.3,456.6 413.6,453.5 410.4,447.2 397.9,446.5 397.2,441 394.8,434.7 387,432.4 377.6,430 376,424.6 369.8,424.6 365.9,427.7 363.5,433.9 352.6,434.7 347.1,437.1 341.6,433.9 337,428.5 333.8,425.7 327.6,426.9 319.7,432.4 313.5,430.8 311.9,426.1 307.2,426.9 304.1,435.5 301,438.6 296.3,437.1 290,431.6 282.2,425.3 277.5,419.9 277.5,416.7 288.5,416.3 297.9,418.3 305.7,423.8 308.8,422.2 307.2,419.9 300.2,418.3 298.6,414.4 301.8,409.7 303.3,402.7 296.3,399.5 298.6,394.1 296.3,386.3 294,382.9 290,375 282.2,368.8 277.5,362.5 271.3,358.6 260.3,356.3 253.3,348.5 254,345.3 260.3,337.5 261.9,331.3 258.8,325 249.4,321.1 244.5,319.1 230.4,320.7 217.9,324.6 211.7,323.8 208.6,320.7 203.9,316.7 191.4,317.5 185.1,313.6 175.7,312.1 169.5,315.2 163.2,321.4 163.2,326.1 166.3,329.3 167.1,332.4 160.1,335.5 150.7,340.2 136.6,346.5 132.7,348.8 126.5,344.9 122.5,336.3 114.7,330 106.9,329.3 103,326.1 100.7,320.7 89.7,320.7 80.3,317.5 72.5,313.6 70.9,308.1 65.5,303.5 69.4,295.6 75.6,287 83.5,279.7 91.3,271.9 99.1,262.5 108.5,254.7 114.7,255.5 121,260.2 128.8,261.8 135.8,259.4 135,255.5 127.2,252.4 123.3,248.5 125.7,245.3 138.2,240.7 146,236.7 157,236.7 169.5,232.1 178.8,229.7 183.5,233.6 197.6,239.1 216.4,238.3 224.2,233.6 229.7,231.3 228.9,223.5 232,215.6 235.6,212.9 241.9,206.6 253.6,205 260,199 262,194 256,191.8 248.9,188.6 252.1,181.6 248.1,175.3 253.6,161.3 259.1,155 269.3,151.9 266.1,148 263.8,141 268.5,137.8 270,133.9 268.5,132.3 259.9,127.6 257.5,119.7 249.7,115.1 245,109.6 250.5,108.8 251.3,104.1 236.4,101 233.3,97.9 234.9,93.2 237.2,86.9 243.5,80.7 248.9,74.4 238.8,71.3 229.4,69.7 228.6,65 231.7,60.3 230.9,51.7 238,46.3 241.1,47 240.3,54.9 243.5,51.7 266.9,52.5 265.4,49.4" fill="none" stroke="#1c3c1c" stroke-width="1" stroke-linejoin="round"/>
<text class="cl" font-size="18.5" text-anchor="middle" transform="translate(550.5,162.5) scale(1.36,1) rotate(-90)" y="6.7">25</text>
<text class="cl" font-size="18.5" text-anchor="middle" transform="translate(281,234) scale(1.36,1) rotate(-43)" y="6.7">25</text>
<text class="cl" font-size="18" text-anchor="middle" transform="translate(730.5,168.5) scale(1.36,1) rotate(63)" y="6.5" clip-path="url(#f0)">10</text>
<text class="cl" font-size="18" text-anchor="middle" transform="translate(567.6,383.2) scale(1.36,1) rotate(18)" y="6.5" clip-path="url(#f1)">10</text>
<text class="cl" font-size="18" text-anchor="middle" transform="translate(686.3,390) scale(1.36,1) rotate(54)" y="6.5" clip-path="url(#f2)">10</text>
<text class="cl" font-size="18" text-anchor="middle" transform="translate(344,413) scale(1.36,1) rotate(-51)" y="6.5" clip-path="url(#f3)">10</text>
<text class="cl" font-size="18" text-anchor="middle" transform="translate(291,345) scale(1.36,1) rotate(-14)" y="6.5" clip-path="url(#f4)">10</text>
<text class="cl" font-size="18" text-anchor="middle" transform="translate(770,469.6) scale(1.36,1) rotate(50)" y="6.5" clip-path="url(#f5)">10</text>
<g class="st" text-anchor="middle">
<ellipse cx="279.4" cy="64.2" rx="2.8" ry="2.3" fill="#000"/>
<text transform="translate(279.4,60.6) scale(1.4,1)">发轮细心</text>
<text class="sv" transform="translate(279.4,75.0) scale(1.1,1)">16</text>
<ellipse cx="264.3" cy="80.2" rx="2.8" ry="2.3" fill="#000"/>
<text transform="translate(264.3,76.60000000000001) scale(1.4,1)">发轮</text>
<text class="sv" transform="translate(264.3,91.0) scale(1.1,1)">19.4</text>
<ellipse cx="318.8" cy="90.4" rx="2.8" ry="2.3" fill="#000"/>
<text transform="translate(318.8,86.80000000000001) scale(1.4,1)">发轮宝华</text>
<text class="sv" transform="translate(318.8,101.2) scale(1.1,1)">17</text>
<ellipse cx="299" cy="144" rx="2.8" ry="2.3" fill="#000"/>
<text transform="translate(299,140.4) scale(1.4,1)">龙结</text>
<text class="sv" transform="translate(299,154.8) scale(1.1,1)">23</text>
<ellipse cx="411.6" cy="106.5" rx="2.8" ry="2.3" fill="#000"/>
<text transform="translate(411.6,102.9) scale(1.4,1)">球溪双峰寺</text>
<text class="sv" transform="translate(411.6,117.3) scale(1.1,1)">22.2</text>
<ellipse cx="378" cy="126" rx="2.8" ry="2.3" fill="#000"/>
<text transform="translate(378,122.4) scale(1.4,1)">球溪界牌</text>
<text class="sv" transform="translate(378,136.8) scale(1.1,1)">18.6</text>
<ellipse cx="410.6" cy="129.6" rx="2.8" ry="2.3" fill="#000"/>
<text transform="translate(410.6,126.0) scale(1.4,1)">球溪白草坝</text>
<text class="sv" transform="translate(410.6,140.4) scale(1.1,1)">27.7</text>
<ellipse cx="415.3" cy="148.4" rx="2.8" ry="2.3" fill="#000"/>
<text transform="translate(415.3,144.8) scale(1.4,1)">高楼五四</text>
<text class="sv" transform="translate(415.3,159.20000000000002) scale(1.1,1)">26.3</text>
<ellipse cx="466" cy="148.4" rx="2.8" ry="2.3" fill="#000"/>
<text transform="translate(466,144.8) scale(1.4,1)">归德芦茵</text>
<text class="sv" transform="translate(466,159.20000000000002) scale(1.1,1)">28.7</text>
<ellipse cx="495" cy="132.7" rx="2.8" ry="2.3" fill="#000"/>
<text transform="translate(495,129.1) scale(1.4,1)">归德杨坪冲</text>
<ellipse cx="509" cy="150" rx="2.8" ry="2.3" fill="#000"/>
<text transform="translate(509,146.4) scale(1.4,1)">归德甘露寺</text>
<text class="sv" transform="translate(509,160.8) scale(1.1,1)">28.1</text>
<ellipse cx="385.8" cy="171.4" rx="2.8" ry="2.3" fill="#000"/>
<text transform="translate(385.8,167.8) scale(1.4,1)">高楼新合</text>
<text class="sv" transform="translate(385.8,182.20000000000002) scale(1.1,1)">30</text>
<ellipse cx="360.7" cy="203.5" rx="2.8" ry="2.3" fill="#000"/>
<text transform="translate(360.7,199.9) scale(1.4,1)">铁佛</text>
<text class="sv" transform="translate(360.7,214.3) scale(1.1,1)">33</text>
<ellipse cx="287.2" cy="202" rx="2.8" ry="2.3" fill="#000"/>
<text transform="translate(287.2,198.4) scale(1.4,1)">罗泉龙灯</text>
<text class="sv" transform="translate(287.2,212.8) scale(1.1,1)">25</text>
<ellipse cx="450.8" cy="191.3" rx="2.8" ry="2.3" fill="#000"/>
<text transform="translate(450.8,187.70000000000002) scale(1.4,1)">鱼溪苦竹</text>
<text class="sv" transform="translate(450.8,202.10000000000002) scale(1.1,1)">28.8</text>
<ellipse cx="416" cy="211" rx="2.8" ry="2.3" fill="#000"/>
<text transform="translate(416,207.4) scale(1.4,1)">鱼溪土庐</text>
<text class="sv" transform="translate(416,221.8) scale(1.1,1)">32.4</text>
<ellipse cx="429.4" cy="229" rx="2.8" ry="2.3" fill="#000"/>
<text transform="translate(429.4,225.4) scale(1.4,1)">鱼溪蚂蝗坪</text>
<text class="sv" transform="translate(429.4,239.8) scale(1.1,1)">30.8</text>
<ellipse cx="476.3" cy="240.3" rx="2.8" ry="2.3" fill="#000"/>
<text transform="translate(476.3,236.70000000000002) scale(1.4,1)">新桥</text>
<text class="sv" transform="translate(476.3,251.10000000000002) scale(1.1,1)">28.7</text>
<ellipse cx="452.8" cy="247" rx="2.8" ry="2.3" fill="#000"/>
<text transform="translate(452.8,243.4) scale(1.4,1)">新桥清平</text>
<text class="sv" transform="translate(452.8,257.8) scale(1.1,1)">30.2</text>
<ellipse cx="492.2" cy="273.5" rx="2.8" ry="2.3" fill="#000"/>
<text transform="translate(492.2,269.9) scale(1.4,1)">新桥兰家坝</text>
<text class="sv" transform="translate(492.2,284.3) scale(1.1,1)">25.5</text>
<ellipse cx="527.6" cy="220.3" rx="2.8" ry="2.3" fill="#000"/>
<text transform="translate(527.6,216.70000000000002) scale(1.4,1)">水南板栗桠</text>
<text class="sv" transform="translate(527.6,231.10000000000002) scale(1.1,1)">25.7</text>
<ellipse cx="555.3" cy="184.3" rx="2.8" ry="2.3" fill="#000"/>
<text transform="translate(555.3,180.70000000000002) scale(1.4,1)">重龙杨柳滩</text>
<text class="sv" transform="translate(555.3,195.10000000000002) scale(1.1,1)">24.5</text>
<ellipse cx="593.6" cy="133.5" rx="2.8" ry="2.3" fill="#000"/>
<text transform="translate(593.6,129.9) scale(1.4,1)">双龙红牌</text>
<text class="sv" transform="translate(593.6,144.3) scale(1.1,1)">22.7</text>
<ellipse cx="627" cy="160" rx="2.8" ry="2.3" fill="#000"/>
<text transform="translate(627,156.4) scale(1.4,1)">双龙黄桷湾</text>
<text class="sv" transform="translate(627,170.8) scale(1.1,1)">2.4</text>
<ellipse cx="689" cy="101" rx="2.8" ry="2.3" fill="#000"/>
<text transform="translate(689,97.4) scale(1.4,1)">孟塘</text>
<text class="sv" transform="translate(689,111.8) scale(1.1,1)">20.7</text>
<ellipse cx="669.6" cy="157.5" rx="2.8" ry="2.3" fill="#000"/>
<text transform="translate(669.6,153.9) scale(1.4,1)">孟塘驼柏树</text>
<text class="sv" transform="translate(669.6,168.3) scale(1.1,1)">14.4</text>
<ellipse cx="612.5" cy="184" rx="2.8" ry="2.3" fill="#000"/>
<text transform="translate(612.5,180.4) scale(1.4,1)">双龙钟尖</text>
<text class="sv" transform="translate(612.5,194.8) scale(1.1,1)">17.9</text>
<ellipse cx="657" cy="203.7" rx="2.8" ry="2.3" fill="#000"/>
<text transform="translate(657,200.1) scale(1.4,1)">重龙龙马</text>
<text class="sv" transform="translate(657,214.5) scale(1.1,1)">15.9</text>
<ellipse cx="693" cy="199" rx="2.8" ry="2.3" fill="#000"/>
<text transform="translate(693,195.4) scale(1.4,1)">狮子石堰湾</text>
<text class="sv" transform="translate(693,209.8) scale(1.1,1)">12</text>
<ellipse cx="711.8" cy="195.8" rx="2.8" ry="2.3" fill="#000"/>
<text transform="translate(711.8,192.20000000000002) scale(1.4,1)">狮子苍店</text>
<text class="sv" transform="translate(711.8,206.60000000000002) scale(1.1,1)">13.1</text>
<ellipse cx="700.9" cy="223" rx="2.8" ry="2.3" fill="#000"/>
<text class="sv" transform="translate(700.9,233.8) scale(1.1,1)">11.1</text>
<ellipse cx="715" cy="223.5" rx="2.8" ry="2.3" fill="#000"/>
<text class="sv" transform="translate(715,234.3) scale(1.1,1)">10.7</text>
<text transform="translate(708,219.6) scale(1.4,1)">重龙泮西宝</text>
<ellipse cx="761.8" cy="211.7" rx="2.8" ry="2.3" fill="#000"/>
<text transform="translate(761.8,208.1) scale(1.4,1)">太平庆荣</text>
<text class="sv" transform="translate(761.8,222.5) scale(1.1,1)">9.2</text>
<ellipse cx="754" cy="231.7" rx="2.8" ry="2.3" fill="#000"/>
<text transform="translate(754,228.1) scale(1.4,1)">太平红门</text>
<text class="sv" transform="translate(754,242.5) scale(1.1,1)">12</text>
<ellipse cx="580.3" cy="217.5" rx="2.8" ry="2.3" fill="#000"/>
<text transform="translate(580.3,213.9) scale(1.4,1)">资中</text>
<text class="sv" transform="translate(580.3,228.3) scale(1.1,1)">20.8</text>
<ellipse cx="592.8" cy="237.5" rx="2.8" ry="2.3" fill="#000"/>
<text transform="translate(592.8,233.9) scale(1.4,1)">水南乘家</text>
<ellipse cx="585.4" cy="249.7" rx="2.8" ry="2.3" fill="#000"/>
<text transform="translate(585.4,246.1) scale(1.4,1)">明心寺</text>
<text class="sv" transform="translate(585.4,260.5) scale(1.1,1)">22.3</text>
<ellipse cx="614.8" cy="245" rx="2.8" ry="2.3" fill="#000"/>
<text transform="translate(614.8,241.4) scale(1.4,1)">万福</text>
<text class="sv" transform="translate(614.8,255.8) scale(1.1,1)">20.4</text>
<ellipse cx="651.9" cy="261.5" rx="2.8" ry="2.3" fill="#000"/>
<text transform="translate(651.9,257.9) scale(1.4,1)">银山平安寨</text>
<text class="sv" transform="translate(651.9,272.3) scale(1.1,1)">18.4</text>
<ellipse cx="526" cy="280.8" rx="2.8" ry="2.3" fill="#000"/>
<text transform="translate(526,277.2) scale(1.4,1)">双河</text>
<text class="sv" transform="translate(526,291.6) scale(1.1,1)">17.8</text>
<ellipse cx="560.7" cy="284.4" rx="2.8" ry="2.3" fill="#000"/>
<text transform="translate(560.7,280.79999999999995) scale(1.4,1)">公民回龙</text>
<text class="sv" transform="translate(560.7,295.2) scale(1.1,1)">11.3</text>
<ellipse cx="393.2" cy="302.3" rx="2.8" ry="2.3" fill="#000"/>
<text transform="translate(393.2,298.7) scale(1.4,1)">山王</text>
<text class="sv" transform="translate(393.2,313.1) scale(1.1,1)">10.5</text>
<ellipse cx="435.6" cy="295.5" rx="2.8" ry="2.3" fill="#000"/>
<text transform="translate(435.6,291.9) scale(1.4,1)">山王卫农</text>
<text class="sv" transform="translate(435.6,306.3) scale(1.1,1)">16.2</text>
<ellipse cx="496" cy="313.8" rx="2.8" ry="2.3" fill="#000"/>
<text transform="translate(496,310.2) scale(1.4,1)">双河熊桥</text>
<text class="sv" transform="translate(496,324.6) scale(1.1,1)">13.8</text>
<ellipse cx="546.7" cy="318.5" rx="2.8" ry="2.3" fill="#000"/>
<text transform="translate(546.7,314.9) scale(1.4,1)">陈家</text>
<text class="sv" transform="translate(546.7,329.3) scale(1.1,1)">17.7</text>
<ellipse cx="603.3" cy="308.5" rx="2.8" ry="2.3" fill="#000"/>
<text transform="translate(603.3,304.9) scale(1.4,1)">公民葛麻寺</text>
<text class="sv" transform="translate(603.3,319.3) scale(1.1,1)">15.5</text>
<ellipse cx="459.9" cy="340" rx="2.8" ry="2.3" fill="#000"/>
<text transform="translate(459.9,336.4) scale(1.4,1)">高石禾丰</text>
<ellipse cx="478.6" cy="351" rx="2.8" ry="2.3" fill="#000"/>
<text transform="translate(478.6,347.4) scale(1.4,1)">高石伞岭</text>
<text class="sv" transform="translate(478.6,361.8) scale(1.1,1)">9</text>
<ellipse cx="431.7" cy="358.8" rx="2.8" ry="2.3" fill="#000"/>
<text transform="translate(431.7,355.2) scale(1.4,1)">严陵三胜</text>
<text class="sv" transform="translate(431.7,369.6) scale(1.1,1)">11.6</text>
<ellipse cx="491.5" cy="367" rx="2.8" ry="2.3" fill="#000"/>
<text transform="translate(491.5,363.4) scale(1.4,1)">龙会互助</text>
<text class="sv" transform="translate(491.5,377.8) scale(1.1,1)">12.1</text>
<ellipse cx="510" cy="372.9" rx="2.8" ry="2.3" fill="#000"/>
<text transform="translate(510,369.29999999999995) scale(1.4,1)">龙会</text>
<text class="sv" transform="translate(510,383.7) scale(1.1,1)">12.4</text>
<ellipse cx="540.7" cy="361.6" rx="2.8" ry="2.3" fill="#000"/>
<text transform="translate(540.7,358.0) scale(1.4,1)">龙会高峰寺</text>
<text class="sv" transform="translate(540.7,372.40000000000003) scale(1.1,1)">13.6</text>
<ellipse cx="568.6" cy="362.2" rx="2.8" ry="2.3" fill="#000"/>
<text transform="translate(568.6,358.59999999999997) scale(1.4,1)">李家坪</text>
<text class="sv" transform="translate(568.6,373.0) scale(1.1,1)">12.3</text>
<ellipse cx="558.4" cy="385.5" rx="2.8" ry="2.3" fill="#000"/>
<text transform="translate(558.4,381.9) scale(1.4,1)">东联石板坝</text>
<text class="sv" transform="translate(558.4,396.3) scale(1.1,1)">8.9</text>
<ellipse cx="545.6" cy="407" rx="2.8" ry="2.3" fill="#000"/>
<text transform="translate(545.6,403.4) scale(1.4,1)">东联华场</text>
<text class="sv" transform="translate(545.6,417.8) scale(1.1,1)">0.1</text>
<ellipse cx="469" cy="410.8" rx="2.8" ry="2.3" fill="#000"/>
<text transform="translate(469,407.2) scale(1.4,1)">界牌花园</text>
<text class="sv" transform="translate(469,421.6) scale(1.1,1)">12</text>
<ellipse cx="424" cy="415.7" rx="2.8" ry="2.3" fill="#000"/>
<text transform="translate(424,412.09999999999997) scale(1.4,1)">新店</text>
<ellipse cx="431" cy="426.6" rx="2.8" ry="2.3" fill="#000"/>
<text transform="translate(431,423.0) scale(1.4,1)">新店石坪</text>
<text class="sv" transform="translate(431,437.40000000000003) scale(1.1,1)">14.5</text>
<ellipse cx="416" cy="434.7" rx="2.8" ry="2.3" fill="#000"/>
<text transform="translate(416,431.09999999999997) scale(1.4,1)">向义大冲</text>
<text class="sv" transform="translate(416,445.5) scale(1.1,1)">12.7</text>
<ellipse cx="471.6" cy="462" rx="2.8" ry="2.3" fill="#000"/>
<text transform="translate(471.6,458.4) scale(1.4,1)">向义高碑</text>
<text class="sv" transform="translate(471.6,472.8) scale(1.1,1)">12.7</text>
<ellipse cx="376" cy="345.7" rx="2.8" ry="2.3" fill="#000"/>
<text transform="translate(376,342.09999999999997) scale(1.4,1)">严陵龙泉</text>
<text class="sv" transform="translate(376,356.5) scale(1.1,1)">11.5</text>
<ellipse cx="411.5" cy="384.5" rx="2.8" ry="2.3" fill="#000"/>
<text transform="translate(411.5,380.9) scale(1.4,1)">严陵水厂</text>
<text class="sv" transform="translate(411.5,395.3) scale(1.1,1)">13.3</text>
<ellipse cx="418.8" cy="382.5" rx="2.8" ry="2.3" fill="#000"/>
<text transform="translate(418.8,378.9) scale(1.4,1)">严陵长益</text>
<text class="sv" transform="translate(418.8,393.3) scale(1.1,1)">13.5</text>
<ellipse cx="324.8" cy="393.8" rx="2.8" ry="2.3" fill="#000"/>
<text transform="translate(324.8,390.2) scale(1.4,1)">镇西</text>
<text class="sv" transform="translate(324.8,404.6) scale(1.1,1)">8.3</text>
<ellipse cx="325.2" cy="354.4" rx="2.8" ry="2.3" fill="#000"/>
<text transform="translate(325.2,350.79999999999995) scale(1.4,1)">镇西庆丰</text>
<text class="sv" transform="translate(325.2,365.2) scale(1.1,1)">6.5</text>
<ellipse cx="299.4" cy="362.2" rx="2.8" ry="2.3" fill="#000"/>
<text transform="translate(299.4,358.59999999999997) scale(1.4,1)">镇西河口水库</text>
<text class="sv" transform="translate(299.4,373.0) scale(1.1,1)">7.1</text>
<ellipse cx="281.4" cy="354" rx="2.8" ry="2.3" fill="#000"/>
<text transform="translate(281.4,350.4) scale(1.4,1)">镇西</text>
<text class="sv" transform="translate(281.4,364.8) scale(1.1,1)">8.5</text>
<ellipse cx="281" cy="323" rx="2.8" ry="2.3" fill="#000"/>
<text transform="translate(281,319.4) scale(1.4,1)">新场民胜</text>
<text class="sv" transform="translate(281,333.8) scale(1.1,1)">20</text>
<ellipse cx="287" cy="297" rx="2.8" ry="2.3" fill="#000"/>
<text transform="translate(287,293.4) scale(1.4,1)">新场</text>
<text class="sv" transform="translate(287,307.8) scale(1.1,1)">11.6</text>
<ellipse cx="251.6" cy="282.9" rx="2.8" ry="2.3" fill="#000"/>
<text transform="translate(251.6,279.29999999999995) scale(1.4,1)">新场红豆</text>
<text class="sv" transform="translate(251.6,293.7) scale(1.1,1)">20.9</text>
<ellipse cx="202" cy="271.6" rx="2.8" ry="2.3" fill="#000"/>
<text transform="translate(202,268.0) scale(1.4,1)">越溪俩母山</text>
<text class="sv" transform="translate(202,282.40000000000003) scale(1.1,1)">19.2</text>
<ellipse cx="197.6" cy="242.5" rx="2.8" ry="2.3" fill="#000"/>
<text transform="translate(197.6,238.9) scale(1.4,1)">连界西河社区</text>
<text class="sv" transform="translate(197.6,253.3) scale(1.1,1)">12.8</text>
<ellipse cx="148" cy="282.9" rx="2.8" ry="2.3" fill="#000"/>
<text transform="translate(148,279.29999999999995) scale(1.4,1)">越溪天宫</text>
<text class="sv" transform="translate(148,293.7) scale(1.1,1)">12</text>
<ellipse cx="83.5" cy="290.2" rx="2.8" ry="2.3" fill="#000"/>
<text transform="translate(83.5,286.59999999999997) scale(1.4,1)">小河</text>
<text class="sv" transform="translate(83.5,301.0) scale(1.1,1)">12.9</text>
<ellipse cx="202" cy="306.3" rx="2.8" ry="2.3" fill="#000"/>
<text transform="translate(202,302.7) scale(1.4,1)">越溪</text>
<text class="sv" transform="translate(202,317.1) scale(1.1,1)">18.6</text>
<ellipse cx="250.8" cy="236.3" rx="2.8" ry="2.3" fill="#000"/>
<text transform="translate(250.8,232.70000000000002) scale(1.4,1)">连界</text>
<text class="sv" transform="translate(250.8,247.10000000000002) scale(1.1,1)">28</text>
<ellipse cx="355.5" cy="259" rx="2.8" ry="2.3" fill="#000"/>
<text transform="translate(355.5,255.4) scale(1.4,1)">观英滩</text>
<text class="sv" transform="translate(355.5,269.8) scale(1.1,1)">24.5</text>
<ellipse cx="342.2" cy="264.6" rx="2.8" ry="2.3" fill="#000"/>
<text transform="translate(342.2,261.0) scale(1.4,1)">观英滩水文桥</text>
<text class="sv" transform="translate(342.2,275.40000000000003) scale(1.1,1)">8</text>
<ellipse cx="743.5" cy="146.9" rx="2.8" ry="2.3" fill="#000"/>
<text transform="translate(743.5,143.3) scale(1.4,1)">龙江</text>
<text class="sv" transform="translate(743.5,157.70000000000002) scale(1.1,1)">6.6</text>
<ellipse cx="790.6" cy="141.9" rx="2.8" ry="2.3" fill="#000"/>
<text transform="translate(790.6,138.3) scale(1.4,1)">龙江联溪</text>
<text class="sv" transform="translate(790.6,152.70000000000002) scale(1.1,1)">9.9</text>
<ellipse cx="824.6" cy="193.4" rx="2.8" ry="2.3" fill="#000"/>
<text transform="translate(824.6,189.8) scale(1.4,1)">双桥元觉</text>
<text class="sv" transform="translate(824.6,204.20000000000002) scale(1.1,1)">8.6</text>
<ellipse cx="904" cy="185.9" rx="2.8" ry="2.3" fill="#000"/>
<text transform="translate(904,182.3) scale(1.4,1)">团结水库</text>
<text class="sv" transform="translate(904,196.70000000000002) scale(1.1,1)">5.9</text>
<ellipse cx="973.9" cy="190.4" rx="2.8" ry="2.3" fill="#000"/>
<text transform="translate(973.9,186.8) scale(1.4,1)">永福盘陀</text>
<text class="sv" transform="translate(973.9,201.20000000000002) scale(1.1,1)">3.4</text>
<ellipse cx="942.7" cy="217.5" rx="2.8" ry="2.3" fill="#000"/>
<text transform="translate(942.7,213.9) scale(1.4,1)">高梁蒋家坪</text>
<text class="sv" transform="translate(942.7,228.3) scale(1.1,1)">4.8</text>
<ellipse cx="1042" cy="211" rx="2.8" ry="2.3" fill="#000"/>
<text transform="translate(1042,207.4) scale(1.4,1)">杨家王家庵</text>
<text class="sv" transform="translate(1042,221.8) scale(1.1,1)">1.4</text>
<ellipse cx="889.8" cy="249.5" rx="2.8" ry="2.3" fill="#000"/>
<text transform="translate(889.8,245.9) scale(1.4,1)">田家九莲</text>
<text class="sv" transform="translate(889.8,260.3) scale(1.1,1)">4</text>
<ellipse cx="869.4" cy="271.3" rx="2.8" ry="2.3" fill="#000"/>
<text transform="translate(869.4,267.7) scale(1.4,1)">田家正子</text>
<text class="sv" transform="translate(869.4,282.1) scale(1.1,1)">5</text>
<ellipse cx="902" cy="291.6" rx="2.8" ry="2.3" fill="#000"/>
<text transform="translate(902,288.0) scale(1.4,1)">田家杨柳</text>
<text class="sv" transform="translate(902,302.40000000000003) scale(1.1,1)">0</text>
<ellipse cx="817.4" cy="256.2" rx="2.8" ry="2.3" fill="#000"/>
<text transform="translate(817.4,252.6) scale(1.4,1)">松林水库</text>
<text class="sv" transform="translate(817.4,267.0) scale(1.1,1)">4.6</text>
<ellipse cx="751.2" cy="254" rx="2.8" ry="2.3" fill="#000"/>
<text transform="translate(751.2,250.4) scale(1.4,1)">双才罗皇</text>
<text class="sv" transform="translate(751.2,264.8) scale(1.1,1)">5.8</text>
<ellipse cx="766.9" cy="261.5" rx="2.8" ry="2.3" fill="#000"/>
<text transform="translate(766.9,257.9) scale(1.4,1)">双才万里</text>
<text class="sv" transform="translate(766.9,272.3) scale(1.1,1)">5.5</text>
<ellipse cx="968.2" cy="265.8" rx="2.8" ry="2.3" fill="#000"/>
<text transform="translate(968.2,262.2) scale(1.4,1)">白合交通</text>
<text class="sv" transform="translate(968.2,276.6) scale(1.1,1)">1.9</text>
<ellipse cx="1025.2" cy="257.8" rx="2.8" ry="2.3" fill="#000"/>
<text transform="translate(1025.2,254.20000000000002) scale(1.4,1)">白合</text>
<text class="sv" transform="translate(1025.2,268.6) scale(1.1,1)">1.8</text>
<ellipse cx="1038.8" cy="256.3" rx="2.8" ry="2.3" fill="#000"/>
<text transform="translate(1038.8,252.70000000000002) scale(1.4,1)">白合奋进高</text>
<text class="sv" transform="translate(1038.8,267.1) scale(1.1,1)">1.8</text>
<ellipse cx="1033.8" cy="260.5" rx="2.8" ry="2.3" fill="#000"/>
<text class="sv" transform="translate(1033.8,271.3) scale(1.1,1)">1.3</text>
<ellipse cx="1049.5" cy="274.6" rx="2.8" ry="2.3" fill="#000"/>
<text transform="translate(1049.5,271.0) scale(1.4,1)">白子龙安</text>
<text class="sv" transform="translate(1049.5,285.40000000000003) scale(1.1,1)">0.9</text>
<ellipse cx="716.5" cy="282.6" rx="2.8" ry="2.3" fill="#000"/>
<text transform="translate(716.5,279.0) scale(1.4,1)">高溪</text>
<ellipse cx="713.4" cy="293.8" rx="2.8" ry="2.3" fill="#000"/>
<text transform="translate(713.4,290.2) scale(1.4,1)">电商中岭</text>
<text class="sv" transform="translate(713.4,304.6) scale(1.1,1)">17.2</text>
<ellipse cx="664" cy="299.4" rx="2.8" ry="2.3" fill="#000"/>
<text transform="translate(664,295.79999999999995) scale(1.4,1)">史家金龟</text>
<ellipse cx="659.9" cy="315" rx="2.8" ry="2.3" fill="#000"/>
<text transform="translate(659.9,311.4) scale(1.4,1)">史家大岩洞</text>
<text class="sv" transform="translate(659.9,325.8) scale(1.1,1)">15.1</text>
<ellipse cx="631.3" cy="332.2" rx="2.8" ry="2.3" fill="#000"/>
<text transform="translate(631.3,328.59999999999997) scale(1.4,1)">全安</text>
<text class="sv" transform="translate(631.3,343.0) scale(1.1,1)">11.8</text>
<ellipse cx="650.8" cy="352.9" rx="2.8" ry="2.3" fill="#000"/>
<text transform="translate(650.8,349.29999999999995) scale(1.4,1)">全安天台村</text>
<text class="sv" transform="translate(650.8,363.7) scale(1.1,1)">12.5</text>
<ellipse cx="720.7" cy="324.4" rx="2.8" ry="2.3" fill="#000"/>
<text transform="translate(720.7,320.79999999999995) scale(1.4,1)">靖民四</text>
<text class="sv" transform="translate(720.7,335.2) scale(1.1,1)">7.7</text>
<ellipse cx="765" cy="326.3" rx="2.8" ry="2.3" fill="#000"/>
<text transform="translate(765,322.7) scale(1.4,1)">师范学院</text>
<ellipse cx="761" cy="343" rx="2.8" ry="2.3" fill="#000"/>
<text transform="translate(761,339.4) scale(1.4,1)">城南站</text>
<text class="sv" transform="translate(761,353.8) scale(1.1,1)">5.2</text>
<ellipse cx="749.3" cy="354.9" rx="2.8" ry="2.3" fill="#000"/>
<text transform="translate(749.3,351.29999999999995) scale(1.4,1)">交通</text>
<text class="sv" transform="translate(749.3,365.7) scale(1.1,1)">8.7</text>
<ellipse cx="621" cy="361.9" rx="2.8" ry="2.3" fill="#000"/>
<text transform="translate(621,358.29999999999995) scale(1.4,1)">朝阳</text>
<text class="sv" transform="translate(621,372.7) scale(1.1,1)">13.1</text>
<ellipse cx="634" cy="371.7" rx="2.8" ry="2.3" fill="#000"/>
<text transform="translate(634,368.09999999999997) scale(1.4,1)">永安黄河湖</text>
<text class="sv" transform="translate(634,382.5) scale(1.1,1)">11.5</text>
<ellipse cx="623.8" cy="404.9" rx="2.8" ry="2.3" fill="#000"/>
<text transform="translate(623.8,401.29999999999995) scale(1.4,1)">凌家</text>
<text class="sv" transform="translate(623.8,415.7) scale(1.1,1)">13.4</text>
<ellipse cx="665.2" cy="429.9" rx="2.8" ry="2.3" fill="#000"/>
<text transform="translate(665.2,426.29999999999995) scale(1.4,1)">凌家伏龙</text>
<text class="sv" transform="translate(665.2,440.7) scale(1.1,1)">13.1</text>
<ellipse cx="701.7" cy="370" rx="2.8" ry="2.3" fill="#000"/>
<text transform="translate(701.7,366.4) scale(1.4,1)">白马</text>
<text class="sv" transform="translate(701.7,380.8) scale(1.1,1)">7.5</text>
<ellipse cx="727.8" cy="417.7" rx="2.8" ry="2.3" fill="#000"/>
<text transform="translate(727.8,414.09999999999997) scale(1.4,1)">龙门</text>
<text class="sv" transform="translate(727.8,428.5) scale(1.1,1)">9</text>
<ellipse cx="762.6" cy="391.3" rx="2.8" ry="2.3" fill="#000"/>
<text transform="translate(762.6,387.7) scale(1.4,1)">椑木黄桷</text>
<text class="sv" transform="translate(762.6,402.1) scale(1.1,1)">7.5</text>
<ellipse cx="792.3" cy="366.8" rx="2.8" ry="2.3" fill="#000"/>
<text transform="translate(792.3,363.2) scale(1.4,1)">大自然</text>
<text class="sv" transform="translate(792.3,377.6) scale(1.1,1)">4.6</text>
<ellipse cx="799.5" cy="375.2" rx="2.8" ry="2.3" fill="#000"/>
<text transform="translate(799.5,371.59999999999997) scale(1.4,1)">椑木新</text>
<text class="sv" transform="translate(799.5,386.0) scale(1.1,1)">1.4</text>
<ellipse cx="809.2" cy="320.2" rx="2.8" ry="2.3" fill="#000"/>
<text transform="translate(809.2,316.59999999999997) scale(1.4,1)">高桥</text>
<text class="sv" transform="translate(809.2,331.0) scale(1.1,1)">4.2</text>
<ellipse cx="835.1" cy="359.3" rx="2.8" ry="2.3" fill="#000"/>
<text transform="translate(835.1,355.7) scale(1.4,1)">郭北</text>
<text class="sv" transform="translate(835.1,370.1) scale(1.1,1)">3.5</text>
<ellipse cx="850.4" cy="380.7" rx="2.8" ry="2.3" fill="#000"/>
<text transform="translate(850.4,377.09999999999997) scale(1.4,1)">郭北青台</text>
<text class="sv" transform="translate(850.4,391.5) scale(1.1,1)">3.7</text>
<ellipse cx="907" cy="389.4" rx="2.8" ry="2.3" fill="#000"/>
<text transform="translate(907,385.79999999999995) scale(1.4,1)">永兴</text>
<text class="sv" transform="translate(907,400.2) scale(1.1,1)">3.1</text>
<ellipse cx="916" cy="336.9" rx="2.8" ry="2.3" fill="#000"/>
<text transform="translate(916,333.29999999999995) scale(1.4,1)">顺河</text>
<text class="sv" transform="translate(916,347.7) scale(1.1,1)">2.8</text>
<ellipse cx="940" cy="320.6" rx="2.8" ry="2.3" fill="#000"/>
<text transform="translate(940,317.0) scale(1.4,1)">平坦清流</text>
<text class="sv" transform="translate(940,331.40000000000003) scale(1.1,1)">2</text>
<ellipse cx="948.6" cy="332.2" rx="2.8" ry="2.3" fill="#000"/>
<text transform="translate(948.6,328.59999999999997) scale(1.4,1)">平坦白家</text>
<text class="sv" transform="translate(948.6,343.0) scale(1.1,1)">2.2</text>
<ellipse cx="976.4" cy="322.8" rx="2.8" ry="2.3" fill="#000"/>
<text transform="translate(976.4,319.2) scale(1.4,1)">阳晒鱼</text>
<text class="sv" transform="translate(976.4,333.6) scale(1.1,1)">1.6</text>
<ellipse cx="965.2" cy="386" rx="2.8" ry="2.3" fill="#000"/>
<text transform="translate(965.2,382.4) scale(1.4,1)">界市古堰</text>
<text class="sv" transform="translate(965.2,396.8) scale(1.1,1)">1.5</text>
<ellipse cx="963.3" cy="416" rx="2.8" ry="2.3" fill="#000"/>
<text transform="translate(963.3,412.4) scale(1.4,1)">界市</text>
<text class="sv" transform="translate(963.3,426.8) scale(1.1,1)">1.8</text>
<ellipse cx="941" cy="422.8" rx="2.8" ry="2.3" fill="#000"/>
<text transform="translate(941,419.2) scale(1.4,1)">红旗水库</text>
<text class="sv" transform="translate(941,433.6) scale(1.1,1)">1</text>
<ellipse cx="965.2" cy="440.4" rx="2.8" ry="2.3" fill="#000"/>
<text transform="translate(965.2,436.79999999999995) scale(1.4,1)">普润</text>
<text class="sv" transform="translate(965.2,451.2) scale(1.1,1)">1</text>
<ellipse cx="1017.7" cy="432" rx="2.8" ry="2.3" fill="#000"/>
<text transform="translate(1017.7,428.4) scale(1.4,1)">普润佛洞寺</text>
<text class="sv" transform="translate(1017.7,442.8) scale(1.1,1)">0.6</text>
<ellipse cx="1077.2" cy="460.4" rx="2.8" ry="2.3" fill="#000"/>
<text transform="translate(1077.2,456.79999999999995) scale(1.4,1)">石碾渔箭</text>
<text class="sv" transform="translate(1077.2,471.2) scale(1.1,1)">0.4</text>
<ellipse cx="986" cy="465" rx="2.8" ry="2.3" fill="#000"/>
<text transform="translate(986,461.4) scale(1.4,1)">柏林寺</text>
<text class="sv" transform="translate(986,475.8) scale(1.1,1)">0</text>
<ellipse cx="995.4" cy="468.2" rx="2.8" ry="2.3" fill="#000"/>
<text transform="translate(995.4,464.59999999999997) scale(1.4,1)">石碾白鹤林</text>
<text class="sv" transform="translate(995.4,479.0) scale(1.1,1)">0.6</text>
<ellipse cx="909.4" cy="461.6" rx="2.8" ry="2.3" fill="#000"/>
<text transform="translate(909.4,458.0) scale(1.4,1)">龙市迎祥</text>
<text class="sv" transform="translate(909.4,472.40000000000003) scale(1.1,1)">3.2</text>
<ellipse cx="841" cy="425.3" rx="2.8" ry="2.3" fill="#000"/>
<text transform="translate(841,421.7) scale(1.4,1)">双凤</text>
<text class="sv" transform="translate(841,436.1) scale(1.1,1)">6.3</text>
<ellipse cx="845.3" cy="450.4" rx="2.8" ry="2.3" fill="#000"/>
<text transform="translate(845.3,446.79999999999995) scale(1.4,1)">严家滩</text>
<text class="sv" transform="translate(845.3,461.2) scale(1.1,1)">5.3</text>
<ellipse cx="813.2" cy="462.9" rx="2.8" ry="2.3" fill="#000"/>
<text transform="translate(813.2,459.29999999999995) scale(1.4,1)">黄家</text>
<text class="sv" transform="translate(813.2,473.7) scale(1.1,1)">5.8</text>
<ellipse cx="806.7" cy="484.1" rx="2.8" ry="2.3" fill="#000"/>
<text transform="translate(806.7,480.5) scale(1.4,1)">黄家中沙</text>
<text class="sv" transform="translate(806.7,494.90000000000003) scale(1.1,1)">9.3</text>
<ellipse cx="763.7" cy="466.5" rx="2.8" ry="2.3" fill="#000"/>
<text transform="translate(763.7,462.9) scale(1.4,1)">黄家种草</text>
<text class="sv" transform="translate(763.7,477.3) scale(1.1,1)">10.2</text>
<ellipse cx="877" cy="479" rx="2.8" ry="2.3" fill="#000"/>
<text transform="translate(877,475.4) scale(1.4,1)">龙市</text>
<text class="sv" transform="translate(877,489.8) scale(1.1,1)">6.6</text>
<ellipse cx="925.6" cy="497.8" rx="2.8" ry="2.3" fill="#000"/>
<text transform="translate(925.6,494.2) scale(1.4,1)">古宇湖</text>
<text class="sv" transform="translate(925.6,508.6) scale(1.1,1)">3</text>
<ellipse cx="977.2" cy="499.4" rx="2.8" ry="2.3" fill="#000"/>
<text transform="translate(977.2,495.79999999999995) scale(1.4,1)">隆昌</text>
<text class="sv" transform="translate(977.2,510.2) scale(1.1,1)">0.8</text>
<ellipse cx="1015.2" cy="515" rx="2.8" ry="2.3" fill="#000"/>
<text transform="translate(1015.2,511.4) scale(1.4,1)">石燕桥</text>
<text class="sv" transform="translate(1015.2,525.8) scale(1.1,1)">0.7</text>
<ellipse cx="1073.4" cy="506" rx="2.8" ry="2.3" fill="#000"/>
<text transform="translate(1073.4,502.4) scale(1.4,1)">石燕桥三合</text>
<text class="sv" transform="translate(1073.4,516.8) scale(1.1,1)">0</text>
<ellipse cx="988.7" cy="531.5" rx="2.8" ry="2.3" fill="#000"/>
<text transform="translate(988.7,527.9) scale(1.4,1)">金鹅山</text>
<text class="sv" transform="translate(988.7,542.3) scale(1.1,1)">0.7</text>
<ellipse cx="981.1" cy="542.7" rx="2.8" ry="2.3" fill="#000"/>
<text transform="translate(981.1,539.1) scale(1.4,1)">云顶白水滩</text>
<text class="sv" transform="translate(981.1,553.5) scale(1.1,1)">6</text>
<ellipse cx="959.3" cy="558.3" rx="2.8" ry="2.3" fill="#000"/>
<text transform="translate(959.3,554.6999999999999) scale(1.4,1)">云顶</text>
<text class="sv" transform="translate(959.3,569.0999999999999) scale(1.1,1)">1.6</text>
<ellipse cx="905.9" cy="516" rx="2.8" ry="2.3" fill="#000"/>
<text transform="translate(905.9,512.4) scale(1.4,1)">圣灯</text>
<text class="sv" transform="translate(905.9,526.8) scale(1.1,1)">5.2</text>
<ellipse cx="847.2" cy="530.2" rx="2.8" ry="2.3" fill="#000"/>
<text transform="translate(847.2,526.6) scale(1.4,1)">响石</text>
<text class="sv" transform="translate(847.2,541.0) scale(1.1,1)">9.4</text>
<ellipse cx="908.5" cy="557.5" rx="2.8" ry="2.3" fill="#000"/>
<text transform="translate(908.5,553.9) scale(1.4,1)">胡家</text>
<text class="sv" transform="translate(908.5,568.3) scale(1.1,1)">3.4</text>
</g>
<rect x="64.5" y="43" width="1037" height="547.7" fill="none" stroke="#555" stroke-width="1.3"/>
<line x1="93.6" y1="33" x2="93.6" y2="43" stroke="#555" stroke-width="1.3"/><line x1="93.6" y1="590.7" x2="93.6" y2="600" stroke="#555" stroke-width="1.3"/>
<text class="ax" text-anchor="middle" transform="translate(93.6,617) scale(1.4,1)" clip-path="url(#f6)">104.3</text>
<line x1="181.9" y1="33" x2="181.9" y2="43" stroke="#555" stroke-width="1.3"/><line x1="181.9" y1="590.7" x2="181.9" y2="600" stroke="#555" stroke-width="1.3"/>
<text class="ax" text-anchor="middle" transform="translate(181.9,617) scale(1.4,1)" clip-path="url(#f7)">104.4</text>
<line x1="270.2" y1="33" x2="270.2" y2="43" stroke="#555" stroke-width="1.3"/><line x1="270.2" y1="590.7" x2="270.2" y2="600" stroke="#555" stroke-width="1.3"/>
<text class="ax" text-anchor="middle" transform="translate(270.2,617) scale(1.4,1)" clip-path="url(#f8)">104.5</text>
<line x1="358.5" y1="33" x2="358.5" y2="43" stroke="#555" stroke-width="1.3"/><line x1="358.5" y1="590.7" x2="358.5" y2="600" stroke="#555" stroke-width="1.3"/>
<text class="ax" text-anchor="middle" transform="translate(358.5,617) scale(1.4,1)" clip-path="url(#f9)">104.6</text>
<line x1="446.8" y1="33" x2="446.8" y2="43" stroke="#555" stroke-width="1.3"/><line x1="446.8" y1="590.7" x2="446.8" y2="600" stroke="#555" stroke-width="1.3"/>
<text class="ax" text-anchor="middle" transform="translate(446.8,617) scale(1.4,1)" clip-path="url(#f10)">104.7</text>
<line x1="535.1" y1="33" x2="535.1" y2="43" stroke="#555" stroke-width="1.3"/><line x1="535.1" y1="590.7" x2="535.1" y2="600" stroke="#555" stroke-width="1.3"/>
<text class="ax" text-anchor="middle" transform="translate(535.1,617) scale(1.4,1)" clip-path="url(#f11)">104.8</text>
<line x1="623.4" y1="33" x2="623.4" y2="43" stroke="#555" stroke-width="1.3"/><line x1="623.4" y1="590.7" x2="623.4" y2="600" stroke="#555" stroke-width="1.3"/>
<text class="ax" text-anchor="middle" transform="translate(623.4,617) scale(1.4,1)" clip-path="url(#f12)">104.9</text>
<line x1="711.7" y1="33" x2="711.7" y2="43" stroke="#555" stroke-width="1.3"/><line x1="711.7" y1="590.7" x2="711.7" y2="600" stroke="#555" stroke-width="1.3"/>
<text class="ax" text-anchor="middle" transform="translate(711.7,617) scale(1.4,1)" clip-path="url(#f13)">105</text>
<line x1="800.0" y1="33" x2="800.0" y2="43" stroke="#555" stroke-width="1.3"/><line x1="800.0" y1="590.7" x2="800.0" y2="600" stroke="#555" stroke-width="1.3"/>
<text class="ax" text-anchor="middle" transform="translate(800.0,617) scale(1.4,1)" clip-path="url(#f14)">105.1</text>
<line x1="888.3" y1="33" x2="888.3" y2="43" stroke="#555" stroke-width="1.3"/><line x1="888.3" y1="590.7" x2="888.3" y2="600" stroke="#555" stroke-width="1.3"/>
<text class="ax" text-anchor="middle" transform="translate(888.3,617) scale(1.4,1)" clip-path="url(#f15)">105.2</text>
<line x1="976.6" y1="33" x2="976.6" y2="43" stroke="#555" stroke-width="1.3"/><line x1="976.6" y1="590.7" x2="976.6" y2="600" stroke="#555" stroke-width="1.3"/>
<text class="ax" text-anchor="middle" transform="translate(976.6,617) scale(1.4,1)" clip-path="url(#f16)">105.3</text>
<line x1="1064.9" y1="33" x2="1064.9" y2="43" stroke="#555" stroke-width="1.3"/><line x1="1064.9" y1="590.7" x2="1064.9" y2="600" stroke="#555" stroke-width="1.3"/>
<text class="ax" text-anchor="middle" transform="translate(1064.9,617) scale(1.4,1)" clip-path="url(#f17)">105.4</text>
<line x1="51" y1="70.2" x2="64.5" y2="70.2" stroke="#555" stroke-width="1.3"/><line x1="1101.5" y1="70.2" x2="1115" y2="70.2" stroke="#555" stroke-width="1.3"/>
<text class="ax" text-anchor="end" transform="translate(48,76.2) scale(1.4,1)">30</text>
<line x1="51" y1="134.3" x2="64.5" y2="134.3" stroke="#555" stroke-width="1.3"/><line x1="1101.5" y1="134.3" x2="1115" y2="134.3" stroke="#555" stroke-width="1.3"/>
<text class="ax" text-anchor="end" transform="translate(48,140.3) scale(1.4,1)">29.9</text>
<line x1="51" y1="198.4" x2="64.5" y2="198.4" stroke="#555" stroke-width="1.3"/><line x1="1101.5" y1="198.4" x2="1115" y2="198.4" stroke="#555" stroke-width="1.3"/>
<text class="ax" text-anchor="end" transform="translate(48,204.4) scale(1.4,1)">29.8</text>
<line x1="51" y1="262.5" x2="64.5" y2="262.5" stroke="#555" stroke-width="1.3"/><line x1="1101.5" y1="262.5" x2="1115" y2="262.5" stroke="#555" stroke-width="1.3"/>
<text class="ax" text-anchor="end" transform="translate(48,268.5) scale(1.4,1)">29.7</text>
<line x1="51" y1="326.6" x2="64.5" y2="326.6" stroke="#555" stroke-width="1.3"/><line x1="1101.5" y1="326.6" x2="1115" y2="326.6" stroke="#555" stroke-width="1.3"/>
<text class="ax" text-anchor="end" transform="translate(48,332.6) scale(1.4,1)">29.6</text>
<line x1="51" y1="390.7" x2="64.5" y2="390.7" stroke="#555" stroke-width="1.3"/><line x1="1101.5" y1="390.7" x2="1115" y2="390.7" stroke="#555" stroke-width="1.3"/>
<text class="ax" text-anchor="end" transform="translate(48,396.7) scale(1.4,1)">29.5</text>
<line x1="51" y1="454.8" x2="64.5" y2="454.8" stroke="#555" stroke-width="1.3"/><line x1="1101.5" y1="454.8" x2="1115" y2="454.8" stroke="#555" stroke-width="1.3"/>
<text class="ax" text-anchor="end" transform="translate(48,460.8) scale(1.4,1)">29.4</text>
<line x1="51" y1="518.9" x2="64.5" y2="518.9" stroke="#555" stroke-width="1.3"/><line x1="1101.5" y1="518.9" x2="1115" y2="518.9" stroke="#555" stroke-width="1.3"/>
<text class="ax" text-anchor="end" transform="translate(48,524.9) scale(1.4,1)">29.3</text>
<line x1="51" y1="583.0" x2="64.5" y2="583.0" stroke="#555" stroke-width="1.3"/><line x1="1101.5" y1="583.0" x2="1115" y2="583.0" stroke="#555" stroke-width="1.3"/>
<text class="ax" text-anchor="end" transform="translate(48,589.0) scale(1.4,1)">29.2</text>
<text class="ti" font-size="18.6" transform="translate(367.3,20.9) scale(1.3,1)" x="1.80 24.00 46.20 68.40 90.60 112.80 135.00 157.20 179.40 201.60 223.80 246.00 268.20 290.40 312.60">内江市区域气象自动观测站点监测</text>
<text class="ti" font-size="20.3" transform="translate(367.2,41.6) scale(1.38,1)" x="0.09 10.41 20.74 31.07 43.65 51.72 64.30 72.37 82.78 103.35 113.76">2023/5/8日8时</text>
<text class="ti" font-size="20.5" x="553" y="41.2" textLength="70.5" lengthAdjust="spacingAndGlyphs">————</text>
<text class="ti" font-size="20.3" transform="translate(626.3,41.6) scale(1.38,1)" x="0.09 10.41 20.74 31.07 43.65 51.72 64.30 72.37 82.78 103.35 113.76">2023/5/9日8时</text>
<rect x="1188.2" y="66.3" width="43.1" height="71.6" fill="#800033" stroke="#3a3a3a" stroke-width="0.8"/>
<text class="ax" transform="translate(1237.5,143.9) scale(1.4,1)">250</text>
<rect x="1188.2" y="137.9" width="43.1" height="71.6" fill="#ff40b4" stroke="#3a3a3a" stroke-width="0.8"/>
<text class="ax" transform="translate(1237.5,215.5) scale(1.4,1)" clip-path="url(#f18)">100</text>
<rect x="1188.2" y="209.5" width="43.1" height="71.6" fill="#0000ff" stroke="#3a3a3a" stroke-width="0.8"/>
<text class="ax" transform="translate(1237.5,287.1) scale(1.4,1)">50</text>
<rect x="1188.2" y="281.1" width="43.1" height="71.6" fill="#62b6fb" stroke="#3a3a3a" stroke-width="0.8"/>
<text class="ax" transform="translate(1237.5,358.7) scale(1.4,1)">25</text>
<rect x="1188.2" y="352.7" width="43.1" height="71.6" fill="#30c01d" stroke="#3a3a3a" stroke-width="0.8"/>
<text class="ax" transform="translate(1237.5,430.3) scale(1.4,1)" clip-path="url(#f19)">10</text>
<rect x="1188.2" y="424.3" width="43.1" height="71.6" fill="#a5f78e" stroke="#3a3a3a" stroke-width="0.8"/>
<text class="ax" transform="translate(1237.5,501.9) scale(1.4,1)" clip-path="url(#f20)">0.1</text>
<rect x="1188.2" y="495.9" width="43.1" height="71.6" fill="#ffffff" stroke="#3a3a3a" stroke-width="0.8"/>
<text class="ax" transform="translate(1237.5,573.5) scale(1.4,1)">0</text>
<defs><clipPath id="f0"><path clip-rule="evenodd" d="M-90,-40H90V40H-90Z M-9.39,4.44H-5.93V7.53H-9.39Z M-3.44,4.44H-0.13V7.53H-3.44Z"/></clipPath><clipPath id="f1"><path clip-rule="evenodd" d="M-90,-40H90V40H-90Z M-9.39,4.44H-5.93V7.53H-9.39Z M-3.44,4.44H-0.13V7.53H-3.44Z"/></clipPath><clipPath id="f2"><path clip-rule="evenodd" d="M-90,-40H90V40H-90Z M-9.39,4.44H-5.93V7.53H-9.39Z M-3.44,4.44H-0.13V7.53H-3.44Z"/></clipPath><clipPath id="f3"><path clip-rule="evenodd" d="M-90,-40H90V40H-90Z M-9.39,4.44H-5.93V7.53H-9.39Z M-3.44,4.44H-0.13V7.53H-3.44Z"/></clipPath><clipPath id="f4"><path clip-rule="evenodd" d="M-90,-40H90V40H-90Z M-9.39,4.44H-5.93V7.53H-9.39Z M-3.44,4.44H-0.13V7.53H-3.44Z"/></clipPath><clipPath id="f5"><path clip-rule="evenodd" d="M-90,-40H90V40H-90Z M-9.39,4.44H-5.93V7.53H-9.39Z M-3.44,4.44H-0.13V7.53H-3.44Z"/></clipPath><clipPath id="f6"><path clip-rule="evenodd" d="M-90,-40H90V40H-90Z M-20.07,-1.65H-16.84V0.75H-20.07Z M-15.07,-1.65H-11.97V0.75H-15.07Z"/></clipPath><clipPath id="f7"><path clip-rule="evenodd" d="M-90,-40H90V40H-90Z M-20.07,-1.65H-16.84V0.75H-20.07Z M-15.07,-1.65H-11.97V0.75H-15.07Z"/></clipPath><clipPath id="f8"><path clip-rule="evenodd" d="M-90,-40H90V40H-90Z M-20.07,-1.65H-16.84V0.75H-20.07Z M-15.07,-1.65H-11.97V0.75H-15.07Z"/></clipPath><clipPath id="f9"><path clip-rule="evenodd" d="M-90,-40H90V40H-90Z M-20.07,-1.65H-16.84V0.75H-20.07Z M-15.07,-1.65H-11.97V0.75H-15.07Z"/></clipPath><clipPath id="f10"><path clip-rule="evenodd" d="M-90,-40H90V40H-90Z M-20.07,-1.65H-16.84V0.75H-20.07Z M-15.07,-1.65H-11.97V0.75H-15.07Z"/></clipPath><clipPath id="f11"><path clip-rule="evenodd" d="M-90,-40H90V40H-90Z M-20.07,-1.65H-16.84V0.75H-20.07Z M-15.07,-1.65H-11.97V0.75H-15.07Z"/></clipPath><clipPath id="f12"><path clip-rule="evenodd" d="M-90,-40H90V40H-90Z M-20.07,-1.65H-16.84V0.75H-20.07Z M-15.07,-1.65H-11.97V0.75H-15.07Z"/></clipPath><clipPath id="f13"><path clip-rule="evenodd" d="M-90,-40H90V40H-90Z M-13.11,-1.65H-9.88V0.75H-13.11Z M-8.10,-1.65H-5.01V0.75H-8.10Z"/></clipPath><clipPath id="f14"><path clip-rule="evenodd" d="M-90,-40H90V40H-90Z M-20.07,-1.65H-16.84V0.75H-20.07Z M-15.07,-1.65H-11.97V0.75H-15.07Z M12.43,-1.65H15.66V0.75H12.43Z M17.43,-1.65H20.53V0.75H17.43Z"/></clipPath><clipPath id="f15"><path clip-rule="evenodd" d="M-90,-40H90V40H-90Z M-20.07,-1.65H-16.84V0.75H-20.07Z M-15.07,-1.65H-11.97V0.75H-15.07Z"/></clipPath><clipPath id="f16"><path clip-rule="evenodd" d="M-90,-40H90V40H-90Z M-20.07,-1.65H-16.84V0.75H-20.07Z M-15.07,-1.65H-11.97V0.75H-15.07Z"/></clipPath><clipPath id="f17"><path clip-rule="evenodd" d="M-90,-40H90V40H-90Z M-20.07,-1.65H-16.84V0.75H-20.07Z M-15.07,-1.65H-11.97V0.75H-15.07Z"/></clipPath><clipPath id="f18"><path clip-rule="evenodd" d="M-90,-40H90V40H-90Z M0.82,-1.65H4.05V0.75H0.82Z M5.83,-1.65H8.92V0.75H5.83Z"/></clipPath><clipPath id="f19"><path clip-rule="evenodd" d="M-90,-40H90V40H-90Z M0.82,-1.65H4.05V0.75H0.82Z M5.83,-1.65H8.92V0.75H5.83Z"/></clipPath><clipPath id="f20"><path clip-rule="evenodd" d="M-90,-40H90V40H-90Z M14.75,-1.65H17.98V0.75H14.75Z M19.75,-1.65H22.85V0.75H19.75Z"/></clipPath></defs>
</svg></body></html>
